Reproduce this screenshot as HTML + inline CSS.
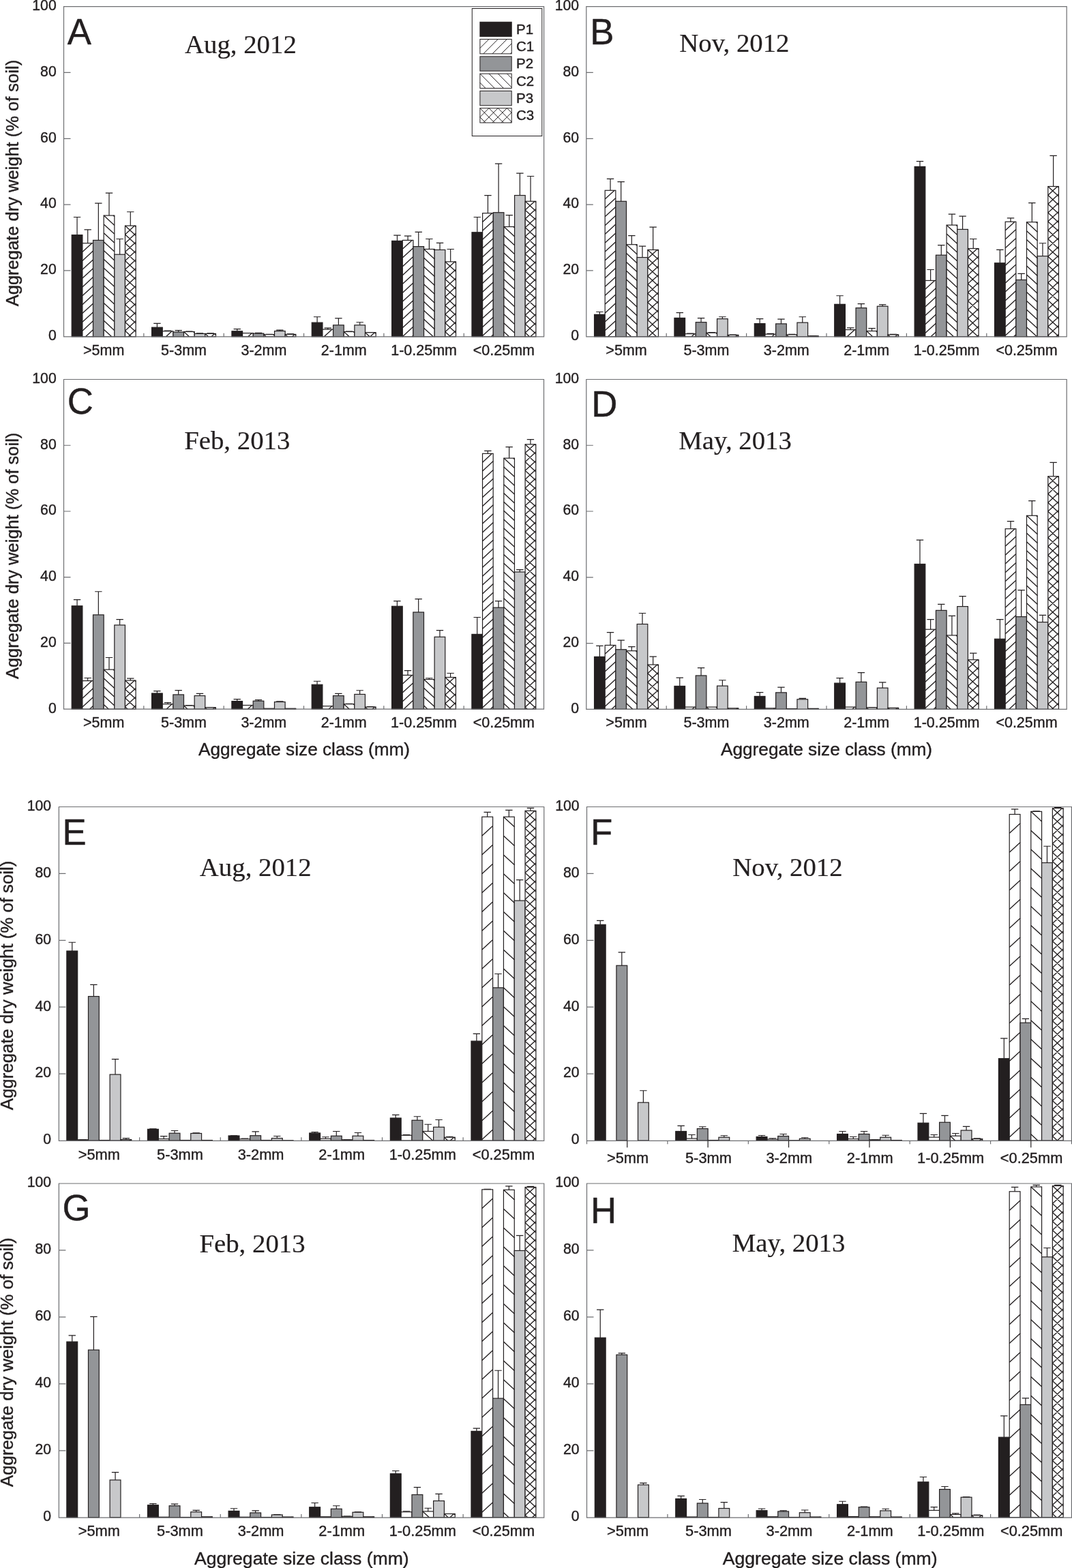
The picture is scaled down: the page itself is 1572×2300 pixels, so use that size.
<!DOCTYPE html>
<html lang="en"><head><meta charset="utf-8"><title>Aggregate dry weight by size class</title>
<style>
html,body{margin:0;padding:0;background:#fff}
svg{display:block}
text{font-family:"Liberation Sans",sans-serif;fill:#231f20;stroke:#231f20;stroke-width:0.4;stroke-linejoin:round}
text.t{font-family:"Liberation Serif",serif;stroke-width:0.2}
</style></head>
<body>
<svg width="1572" height="2300" viewBox="0 0 1572 2300">
<rect width="1572" height="2300" fill="#fff"/>
<g id="panelA">
<g stroke="#231f20" stroke-width="1.2" fill="none">
<path d="M113.06 344.67V318.52M107.86 318.52H118.26M128.7 356.77V336.92M123.5 336.92H133.9M144.35 352.41V298.18M139.15 298.18H149.55M160 316.1V283.17M154.8 283.17H165.2M175.64 373.23V350.48M170.44 350.48H180.84M191.29 331.11V310.77M186.09 310.77H196.49M230.41 480.24V474.43M225.21 474.43H235.61M246.06 485.81V485.08M240.86 485.08H251.26M261.7 487.02V484.6M256.5 484.6H266.9M277.35 486.54V486.05M272.15 486.05H282.55M293 489.44V488.96M287.8 488.96H298.2M308.64 489.44V488.96M303.44 488.96H313.84M347.76 485.81V482.66M342.56 482.66H352.96M379.05 489.1V488.47M373.85 488.47H384.25M394.7 490.65V490.41M389.5 490.41H399.9M410.35 485.57V484.12M405.15 484.12H415.55M425.99 490.41V489.93M420.79 489.93H431.19M465.11 473.17V464.75M459.91 464.75H470.31M480.75 483.15V481.21M475.56 481.21H485.95M496.4 476.85V466.93M491.2 466.93H501.6M512.05 486.54V486.05M506.85 486.05H517.25M527.69 476.85V472.74M522.49 472.74H532.89M543.34 487.75V487.51M538.14 487.51H548.54M582.46 353.38V345.15M577.26 345.15H587.66M598.11 352.41V346.12M592.9 346.12H603.31M613.75 361.61V340.31M608.55 340.31H618.95M629.4 365.49V350.48M624.2 350.48H634.6M645.05 366.46V356.29M639.85 356.29H650.25M660.69 383.89V365.49M655.49 365.49H665.89M699.81 340.79V318.52M694.61 318.52H705.01M715.45 312.71V286.56M710.25 286.56H720.65M731.1 311.74V240.08M725.9 240.08H736.3M746.75 332.56V315.61M741.55 315.61H751.95M762.39 286.56V254.12M757.19 254.12H767.6M778.04 295.28V258.48M772.84 258.48H783.24"/>
</g>
<g stroke="#231f20" stroke-width="1.2">
<rect x="105.23" y="344.67" width="15.65" height="149.13" fill="#231f20"/>
<rect x="120.88" y="356.77" width="15.65" height="137.03" fill="#fff"/>
<rect x="136.53" y="352.41" width="15.65" height="141.39" fill="#939598"/>
<rect x="152.18" y="316.1" width="15.65" height="177.7" fill="#fff"/>
<rect x="167.82" y="373.23" width="15.65" height="120.57" fill="#c7c8ca"/>
<rect x="183.47" y="331.11" width="15.65" height="162.69" fill="#fff"/>
<rect x="222.59" y="480.24" width="15.65" height="13.56" fill="#231f20"/>
<rect x="238.23" y="485.81" width="15.65" height="7.99" fill="#fff"/>
<rect x="253.88" y="487.02" width="15.65" height="6.78" fill="#939598"/>
<rect x="269.53" y="486.54" width="15.65" height="7.26" fill="#fff"/>
<rect x="285.17" y="489.44" width="15.65" height="4.36" fill="#c7c8ca"/>
<rect x="300.82" y="489.44" width="15.65" height="4.36" fill="#fff"/>
<rect x="339.94" y="485.81" width="15.65" height="7.99" fill="#231f20"/>
<rect x="355.58" y="488.62" width="15.65" height="5.18" fill="#fff"/>
<rect x="371.23" y="489.1" width="15.65" height="4.7" fill="#939598"/>
<rect x="386.88" y="490.65" width="15.65" height="3.15" fill="#fff"/>
<rect x="402.52" y="485.57" width="15.65" height="8.23" fill="#c7c8ca"/>
<rect x="418.17" y="490.41" width="15.65" height="3.39" fill="#fff"/>
<rect x="457.29" y="473.17" width="15.65" height="20.63" fill="#231f20"/>
<rect x="472.93" y="483.15" width="15.65" height="10.65" fill="#fff"/>
<rect x="488.58" y="476.85" width="15.65" height="16.95" fill="#939598"/>
<rect x="504.23" y="486.54" width="15.65" height="7.26" fill="#fff"/>
<rect x="519.87" y="476.85" width="15.65" height="16.95" fill="#c7c8ca"/>
<rect x="535.52" y="487.75" width="15.65" height="6.05" fill="#fff"/>
<rect x="574.64" y="353.38" width="15.65" height="140.42" fill="#231f20"/>
<rect x="590.28" y="352.41" width="15.65" height="141.39" fill="#fff"/>
<rect x="605.93" y="361.61" width="15.65" height="132.19" fill="#939598"/>
<rect x="621.58" y="365.49" width="15.65" height="128.31" fill="#fff"/>
<rect x="637.22" y="366.46" width="15.65" height="127.34" fill="#c7c8ca"/>
<rect x="652.87" y="383.89" width="15.65" height="109.91" fill="#fff"/>
<rect x="691.99" y="340.79" width="15.65" height="153.01" fill="#231f20"/>
<rect x="707.63" y="312.71" width="15.65" height="181.09" fill="#fff"/>
<rect x="723.28" y="311.74" width="15.65" height="182.06" fill="#939598"/>
<rect x="738.93" y="332.56" width="15.65" height="161.24" fill="#fff"/>
<rect x="754.57" y="286.56" width="15.65" height="207.24" fill="#c7c8ca"/>
<rect x="770.22" y="295.28" width="15.65" height="198.52" fill="#fff"/>
<path fill="none" stroke-width="1.35" d="M120.88 369.57L134.79 356.77M120.88 382.42L136.53 368.03M120.88 395.27L136.53 380.88M120.88 408.12L136.53 393.73M120.88 420.97L136.53 406.58M120.88 433.82L136.53 419.43M120.88 446.67L136.53 432.28M120.88 459.52L136.53 445.13M120.88 472.37L136.53 457.98M120.88 485.22L136.53 470.83M125.52 493.8L136.53 483.68M166.14 316.1L167.82 317.64M152.18 316.1L167.82 330.49M152.18 328.95L167.82 343.34M152.18 341.8L167.82 356.19M152.18 354.65L167.82 369.04M152.18 367.5L167.82 381.89M152.18 380.35L167.82 394.74M152.18 393.2L167.82 407.59M152.18 406.05L167.82 420.44M152.18 418.9L167.82 433.29M152.18 431.75L167.82 446.14M152.18 444.6L167.82 458.99M152.18 457.45L167.82 471.84M152.18 470.3L167.82 484.69M152.18 483.15L163.75 493.8M183.47 343.91L197.38 331.11M183.47 356.76L199.12 342.36M183.47 369.61L199.12 355.21M183.47 382.46L199.12 368.06M183.47 395.31L199.12 380.91M183.47 408.16L199.12 393.76M183.47 421.01L199.12 406.61M183.47 433.86L199.12 419.46M183.47 446.71L199.12 432.31M183.47 459.56L199.12 445.16M183.47 472.41L199.12 458.01M183.47 485.26L199.12 470.86M188.15 493.8L199.12 483.71M197.44 331.11L199.12 332.65M183.47 331.11L199.12 345.5M183.47 343.96L199.12 358.35M183.47 356.81L199.12 371.2M183.47 369.66L199.12 384.05M183.47 382.51L199.12 396.9M183.47 395.36L199.12 409.75M183.47 408.21L199.12 422.6M183.47 421.06L199.12 435.45M183.47 433.91L199.12 448.3M183.47 446.76L199.12 461.15M183.47 459.61L199.12 474M183.47 472.46L199.12 486.85M183.47 485.31L192.7 493.8M243.46 493.8L252.14 485.81M283.49 486.54L285.17 488.08M269.53 486.54L277.42 493.8M309.99 493.8L314.73 489.44M314.79 489.44L316.47 490.99M300.82 489.44L305.56 493.8M363.86 493.8L369.49 488.62M400.84 490.65L402.52 492.2M386.88 490.65L390.3 493.8M428.4 493.8L432.08 490.41M432.14 490.41L433.82 491.96M418.17 490.41L421.85 493.8M475.27 493.8L486.84 483.15M518.19 486.54L519.87 488.08M504.23 486.54L512.12 493.8M542.85 493.8L549.43 487.75M549.49 487.75L551.17 489.29M535.52 487.75L542.1 493.8M590.28 365.21L604.19 352.41M590.28 378.06L605.93 363.67M590.28 390.91L605.93 376.52M590.28 403.76L605.93 389.37M590.28 416.61L605.93 402.22M590.28 429.46L605.93 415.07M590.28 442.31L605.93 427.92M590.28 455.16L605.93 440.77M590.28 468.01L605.93 453.62M590.28 480.86L605.93 466.47M590.28 493.71L605.93 479.32M604.16 493.8L605.93 492.17M635.54 365.49L637.22 367.03M621.58 365.49L637.22 379.88M621.58 378.34L637.22 392.73M621.58 391.19L637.22 405.58M621.58 404.04L637.22 418.43M621.58 416.89L637.22 431.28M621.58 429.74L637.22 444.13M621.58 442.59L637.22 456.98M621.58 455.44L637.22 469.83M621.58 468.29L637.22 482.68M621.58 481.14L635.34 493.8M652.87 396.69L666.78 383.89M652.87 409.54L668.52 395.14M652.87 422.39L668.52 407.99M652.87 435.24L668.52 420.84M652.87 448.09L668.52 433.69M652.87 460.94L668.52 446.54M652.87 473.79L668.52 459.39M652.87 486.64L668.52 472.24M659.05 493.8L668.52 485.09M666.84 383.89L668.52 385.43M652.87 383.89L668.52 398.28M652.87 396.74L668.52 411.13M652.87 409.59L668.52 423.98M652.87 422.44L668.52 436.83M652.87 435.29L668.52 449.68M652.87 448.14L668.52 462.53M652.87 460.99L668.52 475.38M652.87 473.84L668.52 488.23M652.87 486.69L660.6 493.8M707.63 325.51L721.54 312.71M707.63 338.36L723.28 323.96M707.63 351.21L723.28 336.81M707.63 364.06L723.28 349.66M707.63 376.91L723.28 362.51M707.63 389.76L723.28 375.36M707.63 402.61L723.28 388.21M707.63 415.46L723.28 401.06M707.63 428.31L723.28 413.91M707.63 441.16L723.28 426.76M707.63 454.01L723.28 439.61M707.63 466.86L723.28 452.46M707.63 479.71L723.28 465.31M707.63 492.56L723.28 478.16M720.25 493.8L723.28 491.01M752.89 332.56L754.57 334.11M738.93 332.56L754.57 346.96M738.93 345.41L754.57 359.81M738.93 358.26L754.57 372.66M738.93 371.11L754.57 385.51M738.93 383.96L754.57 398.36M738.93 396.81L754.57 411.21M738.93 409.66L754.57 424.06M738.93 422.51L754.57 436.91M738.93 435.36L754.57 449.76M738.93 448.21L754.57 462.61M738.93 461.06L754.57 475.46M738.93 473.91L754.57 488.31M738.93 486.76L746.58 493.8M770.22 308.08L784.13 295.28M770.22 320.93L785.87 306.53M770.22 333.78L785.87 319.38M770.22 346.63L785.87 332.23M770.22 359.48L785.87 345.08M770.22 372.33L785.87 357.93M770.22 385.18L785.87 370.78M770.22 398.03L785.87 383.63M770.22 410.88L785.87 396.48M770.22 423.73L785.87 409.33M770.22 436.58L785.87 422.18M770.22 449.43L785.87 435.03M770.22 462.28L785.87 447.88M770.22 475.13L785.87 460.73M770.22 487.98L785.87 473.58M777.86 493.8L785.87 486.43M784.19 295.28L785.87 296.82M770.22 295.28L785.87 309.67M770.22 308.13L785.87 322.52M770.22 320.98L785.87 335.37M770.22 333.83L785.87 348.22M770.22 346.68L785.87 361.07M770.22 359.53L785.87 373.92M770.22 372.38L785.87 386.77M770.22 385.23L785.87 399.62M770.22 398.08L785.87 412.47M770.22 410.93L785.87 425.32M770.22 423.78L785.87 438.17M770.22 436.63L785.87 451.02M770.22 449.48L785.87 463.87M770.22 462.33L785.87 476.72M770.22 475.18L785.87 489.57M770.22 488.03L776.49 493.8"/>
</g>
<path d="M93.5 9.6H797.6V493.8H93.5ZM93.5 396.96h10M93.5 300.12h10M93.5 203.28h10M93.5 106.44h10M210.85 493.8v-5M328.2 493.8v-5M445.55 493.8v-5M562.9 493.8v-5M680.25 493.8v-5" fill="none" stroke="#6d6e71" stroke-width="1.2"/>
<g font-size="21.2" text-anchor="end">
<text x="82.7" y="499.1">0</text>
<text x="82.7" y="402.26">20</text>
<text x="82.7" y="305.42">40</text>
<text x="82.7" y="208.58">60</text>
<text x="82.7" y="111.74">80</text>
<text x="82.7" y="14.9">100</text>
</g>
<g font-size="21.5" text-anchor="middle">
<text x="152.18" y="521">&gt;5mm</text>
<text x="269.52" y="521">5-3mm</text>
<text x="386.88" y="521">3-2mm</text>
<text x="504.23" y="521">2-1mm</text>
<text x="621.58" y="521">1-0.25mm</text>
<text x="738.93" y="521">&lt;0.25mm</text>
</g>
<text x="98.8" y="65" font-size="52.8">A</text>
<text x="352.88" y="78" font-size="38.8" text-anchor="middle" class="t">Aug, 2012</text>
<text transform="translate(27.4 268.6) rotate(-90)" font-size="25.5" text-anchor="middle">Aggregate dry weight (% of soil)</text>
</g>
<g id="panelB">
<g stroke="#231f20" stroke-width="1.2" fill="none">
<path d="M879.37 461.36V457.49M874.17 457.49H884.57M895.02 279.3V262.35M889.82 262.35H900.22M910.67 295.28V266.71M905.47 266.71H915.87M926.33 358.71V345.63M921.13 345.63H931.53M941.98 377.59V361.13M936.78 361.13H947.18M957.63 366.46V333.05M952.43 333.05H962.83M996.77 466.44V458.65M991.57 458.65H1001.97M1012.42 489.68V489.2M1007.22 489.2H1017.62M1028.07 472.69V466.68M1022.87 466.68H1033.27M1043.73 488.18V487.51M1038.53 487.51H1048.93M1059.38 467.65V464.75M1054.18 464.75H1064.58M1075.03 491.38V491.14M1069.83 491.14H1080.23M1114.17 474.67V467.65M1108.97 467.65H1119.37M1129.82 490.17V489.44M1124.62 489.44H1135.02M1145.47 474.92V468.14M1140.27 468.14H1150.67M1161.13 490.89V490.41M1155.93 490.41H1166.33M1176.78 473.17V464.75M1171.58 464.75H1181.98M1192.43 492.83V492.59M1187.23 492.59H1197.63M1231.57 446.35V433.76M1226.37 433.76H1236.77M1247.22 483.63V480.97M1242.02 480.97H1252.42M1262.87 451.67V445.62M1257.67 445.62H1268.07M1278.53 485.57V481.69M1273.33 481.69H1283.73M1294.18 449.25V446.83M1288.98 446.83H1299.38M1309.83 490.89V490.41M1304.63 490.41H1315.03M1348.97 244.44V236.69M1343.77 236.69H1354.17M1364.62 411.49V395.51M1359.42 395.51H1369.82M1380.27 374.2V359.68M1375.07 359.68H1385.47M1395.93 330.14V314.16M1390.73 314.16H1401.13M1411.58 336.44V317.07M1406.38 317.07H1416.78M1427.23 364.52V350.48M1422.03 350.48H1432.43M1466.37 385.82V366.46M1461.17 366.46H1471.57M1482.02 325.3V319.97M1476.82 319.97H1487.22M1497.67 410.52V401.32M1492.47 401.32H1502.87M1513.33 325.78V297.7M1508.13 297.7H1518.53M1528.98 375.66V356.77M1523.78 356.77H1534.18M1544.63 273.49V228.46M1539.43 228.46H1549.83"/>
</g>
<g stroke="#231f20" stroke-width="1.2">
<rect x="871.54" y="461.36" width="15.65" height="32.44" fill="#231f20"/>
<rect x="887.19" y="279.3" width="15.65" height="214.5" fill="#fff"/>
<rect x="902.85" y="295.28" width="15.65" height="198.52" fill="#939598"/>
<rect x="918.5" y="358.71" width="15.65" height="135.09" fill="#fff"/>
<rect x="934.15" y="377.59" width="15.65" height="116.21" fill="#c7c8ca"/>
<rect x="949.81" y="366.46" width="15.65" height="127.34" fill="#fff"/>
<rect x="988.94" y="466.44" width="15.65" height="27.36" fill="#231f20"/>
<rect x="1004.59" y="489.68" width="15.65" height="4.12" fill="#fff"/>
<rect x="1020.25" y="472.69" width="15.65" height="21.11" fill="#939598"/>
<rect x="1035.9" y="488.18" width="15.65" height="5.62" fill="#fff"/>
<rect x="1051.55" y="467.65" width="15.65" height="26.15" fill="#c7c8ca"/>
<rect x="1067.21" y="491.38" width="15.65" height="2.42" fill="#fff"/>
<rect x="1106.34" y="474.67" width="15.65" height="19.13" fill="#231f20"/>
<rect x="1121.99" y="490.17" width="15.65" height="3.63" fill="#fff"/>
<rect x="1137.65" y="474.92" width="15.65" height="18.88" fill="#939598"/>
<rect x="1153.3" y="490.89" width="15.65" height="2.91" fill="#fff"/>
<rect x="1168.95" y="473.17" width="15.65" height="20.63" fill="#c7c8ca"/>
<rect x="1184.61" y="492.83" width="15.65" height="0.97" fill="#fff"/>
<rect x="1223.74" y="446.35" width="15.65" height="47.45" fill="#231f20"/>
<rect x="1239.39" y="483.63" width="15.65" height="10.17" fill="#fff"/>
<rect x="1255.05" y="451.67" width="15.65" height="42.13" fill="#939598"/>
<rect x="1270.7" y="485.57" width="15.65" height="8.23" fill="#fff"/>
<rect x="1286.35" y="449.25" width="15.65" height="44.55" fill="#c7c8ca"/>
<rect x="1302.01" y="490.89" width="15.65" height="2.91" fill="#fff"/>
<rect x="1341.14" y="244.44" width="15.65" height="249.36" fill="#231f20"/>
<rect x="1356.79" y="411.49" width="15.65" height="82.31" fill="#fff"/>
<rect x="1372.45" y="374.2" width="15.65" height="119.6" fill="#939598"/>
<rect x="1388.1" y="330.14" width="15.65" height="163.66" fill="#fff"/>
<rect x="1403.75" y="336.44" width="15.65" height="157.36" fill="#c7c8ca"/>
<rect x="1419.41" y="364.52" width="15.65" height="129.28" fill="#fff"/>
<rect x="1458.54" y="385.82" width="15.65" height="107.98" fill="#231f20"/>
<rect x="1474.19" y="325.3" width="15.65" height="168.5" fill="#fff"/>
<rect x="1489.85" y="410.52" width="15.65" height="83.28" fill="#939598"/>
<rect x="1505.5" y="325.78" width="15.65" height="168.02" fill="#fff"/>
<rect x="1521.15" y="375.66" width="15.65" height="118.14" fill="#c7c8ca"/>
<rect x="1536.81" y="273.49" width="15.65" height="220.31" fill="#fff"/>
<path fill="none" stroke-width="1.35" d="M887.19 292.1L901.11 279.3M887.19 304.95L902.85 290.55M887.19 317.8L902.85 303.4M887.19 330.65L902.85 316.25M887.19 343.5L902.85 329.1M887.19 356.35L902.85 341.95M887.19 369.2L902.85 354.8M887.19 382.05L902.85 367.65M887.19 394.9L902.85 380.5M887.19 407.75L902.85 393.35M887.19 420.6L902.85 406.2M887.19 433.45L902.85 419.05M887.19 446.3L902.85 431.9M887.19 459.15L902.85 444.75M887.19 472L902.85 457.6M887.19 484.85L902.85 470.45M891.43 493.8L902.85 483.3M932.47 358.71L934.15 360.26M918.5 358.71L934.15 373.11M918.5 371.56L934.15 385.96M918.5 384.41L934.15 398.81M918.5 397.26L934.15 411.66M918.5 410.11L934.15 424.51M918.5 422.96L934.15 437.36M918.5 435.81L934.15 450.21M918.5 448.66L934.15 463.06M918.5 461.51L934.15 475.91M918.5 474.36L934.15 488.76M918.5 487.21L925.66 493.8M949.81 379.26L963.72 366.46M949.81 392.11L965.46 377.7M949.81 404.96L965.46 390.55M949.81 417.81L965.46 403.4M949.81 430.66L965.46 416.25M949.81 443.51L965.46 429.1M949.81 456.36L965.46 441.95M949.81 469.21L965.46 454.8M949.81 482.06L965.46 467.65M951.01 493.8L965.46 480.5M964.98 493.8L965.46 493.35M963.77 366.46L965.46 368.01M949.81 366.46L965.46 380.86M949.81 379.31L965.46 393.71M949.81 392.16L965.46 406.56M949.81 405.01L965.46 419.41M949.81 417.86L965.46 432.26M949.81 430.71L965.46 445.11M949.81 443.56L965.46 457.96M949.81 456.41L965.46 470.81M949.81 469.26L965.46 483.66M949.81 482.11L962.52 493.8M1014.03 493.8L1018.51 489.68M1049.87 488.18L1051.55 489.73M1035.9 488.18L1042.01 493.8M1078.49 493.8L1081.12 491.38M1081.17 491.38L1082.86 492.93M1067.21 491.38L1069.84 493.8M1131.96 493.8L1135.91 490.17M1167.27 490.89L1168.95 492.45M1153.3 490.89L1156.46 493.8M1197.47 493.8L1198.52 492.83M1198.57 492.83L1199.63 493.8M1184.61 492.83L1185.66 493.8M1242.25 493.8L1253.31 483.63M1284.67 485.57L1286.35 487.12M1270.7 485.57L1279.65 493.8M1312.76 493.8L1315.92 490.89M1315.97 490.89L1317.66 492.45M1302.01 490.89L1305.16 493.8M1356.79 424.29L1370.71 411.49M1356.79 437.14L1372.45 422.73M1356.79 449.99L1372.45 435.58M1356.79 462.84L1372.45 448.43M1356.79 475.69L1372.45 461.28M1356.79 488.54L1372.45 474.13M1365.04 493.8L1372.45 486.98M1402.07 330.14L1403.75 331.69M1388.1 330.14L1403.75 344.54M1388.1 342.99L1403.75 357.39M1388.1 355.84L1403.75 370.24M1388.1 368.69L1403.75 383.09M1388.1 381.54L1403.75 395.94M1388.1 394.39L1403.75 408.79M1388.1 407.24L1403.75 421.64M1388.1 420.09L1403.75 434.49M1388.1 432.94L1403.75 447.34M1388.1 445.79L1403.75 460.19M1388.1 458.64L1403.75 473.04M1388.1 471.49L1403.75 485.89M1388.1 484.34L1398.38 493.8M1419.41 377.32L1433.32 364.52M1419.41 390.17L1435.06 375.77M1419.41 403.02L1435.06 388.62M1419.41 415.87L1435.06 401.47M1419.41 428.72L1435.06 414.32M1419.41 441.57L1435.06 427.17M1419.41 454.42L1435.06 440.02M1419.41 467.27L1435.06 452.87M1419.41 480.12L1435.06 465.72M1419.41 492.97L1435.06 478.57M1432.47 493.8L1435.06 491.42M1433.37 364.52L1435.06 366.07M1419.41 364.52L1435.06 378.92M1419.41 377.37L1435.06 391.77M1419.41 390.22L1435.06 404.62M1419.41 403.07L1435.06 417.47M1419.41 415.92L1435.06 430.32M1419.41 428.77L1435.06 443.17M1419.41 441.62L1435.06 456.02M1419.41 454.47L1435.06 468.87M1419.41 467.32L1435.06 481.72M1419.41 480.17L1434.22 493.8M1419.41 493.02L1420.26 493.8M1474.19 338.1L1488.11 325.3M1474.19 350.95L1489.85 336.55M1474.19 363.8L1489.85 349.4M1474.19 376.65L1489.85 362.25M1474.19 389.5L1489.85 375.1M1474.19 402.35L1489.85 387.95M1474.19 415.2L1489.85 400.8M1474.19 428.05L1489.85 413.65M1474.19 440.9L1489.85 426.5M1474.19 453.75L1489.85 439.35M1474.19 466.6L1489.85 452.2M1474.19 479.45L1489.85 465.05M1474.19 492.3L1489.85 477.9M1486.53 493.8L1489.85 490.75M1519.47 325.78L1521.15 327.33M1505.5 325.78L1521.15 340.18M1505.5 338.63L1521.15 353.03M1505.5 351.48L1521.15 365.88M1505.5 364.33L1521.15 378.73M1505.5 377.18L1521.15 391.58M1505.5 390.03L1521.15 404.43M1505.5 402.88L1521.15 417.28M1505.5 415.73L1521.15 430.13M1505.5 428.58L1521.15 442.98M1505.5 441.43L1521.15 455.83M1505.5 454.28L1521.15 468.68M1505.5 467.13L1521.15 481.53M1505.5 479.98L1520.52 493.8M1505.5 492.83L1506.55 493.8M1536.81 286.29L1550.72 273.49M1536.81 299.14L1552.46 284.74M1536.81 311.99L1552.46 297.59M1536.81 324.84L1552.46 310.44M1536.81 337.69L1552.46 323.29M1536.81 350.54L1552.46 336.14M1536.81 363.39L1552.46 348.99M1536.81 376.24L1552.46 361.84M1536.81 389.09L1552.46 374.69M1536.81 401.94L1552.46 387.54M1536.81 414.79L1552.46 400.39M1536.81 427.64L1552.46 413.24M1536.81 440.49L1552.46 426.09M1536.81 453.34L1552.46 438.94M1536.81 466.19L1552.46 451.79M1536.81 479.04L1552.46 464.64M1536.81 491.89L1552.46 477.49M1548.7 493.8L1552.46 490.34M1550.77 273.49L1552.46 275.04M1536.81 273.49L1552.46 287.89M1536.81 286.34L1552.46 300.74M1536.81 299.19L1552.46 313.59M1536.81 312.04L1552.46 326.44M1536.81 324.89L1552.46 339.29M1536.81 337.74L1552.46 352.14M1536.81 350.59L1552.46 364.99M1536.81 363.44L1552.46 377.84M1536.81 376.29L1552.46 390.69M1536.81 389.14L1552.46 403.54M1536.81 401.99L1552.46 416.39M1536.81 414.84L1552.46 429.24M1536.81 427.69L1552.46 442.09M1536.81 440.54L1552.46 454.94M1536.81 453.39L1552.46 467.79M1536.81 466.24L1552.46 480.64M1536.81 479.09L1552.46 493.49M1536.81 491.94L1538.83 493.8"/>
</g>
<path d="M859.8 9.6H1564.2V493.8H859.8ZM859.8 396.96h10M859.8 300.12h10M859.8 203.28h10M859.8 106.44h10M977.2 493.8v-5M1094.6 493.8v-5M1212 493.8v-5M1329.4 493.8v-5M1446.8 493.8v-5" fill="none" stroke="#6d6e71" stroke-width="1.2"/>
<g font-size="21.2" text-anchor="end">
<text x="849" y="499.1">0</text>
<text x="849" y="402.26">20</text>
<text x="849" y="305.42">40</text>
<text x="849" y="208.58">60</text>
<text x="849" y="111.74">80</text>
<text x="849" y="14.9">100</text>
</g>
<g font-size="21.5" text-anchor="middle">
<text x="918.5" y="521">&gt;5mm</text>
<text x="1035.9" y="521">5-3mm</text>
<text x="1153.3" y="521">3-2mm</text>
<text x="1270.7" y="521">2-1mm</text>
<text x="1388.1" y="521">1-0.25mm</text>
<text x="1505.5" y="521">&lt;0.25mm</text>
</g>
<text x="865.3" y="65" font-size="52.8">B</text>
<text x="1076.88" y="75.5" font-size="38.8" text-anchor="middle" class="t">Nov, 2012</text>
</g>
<g id="panelC">
<g stroke="#231f20" stroke-width="1.2" fill="none">
<path d="M113.06 888.8V879.61M107.86 879.61H118.26M128.7 998.6V994.49M123.5 994.49H133.9M144.34 901.86V867.76M139.14 867.76H149.54M159.99 982.16V964.5M154.79 964.5H165.19M175.63 916.86V908.63M170.43 908.63H180.83M191.28 998.12V995.22M186.08 995.22H196.48M230.39 1016.98V1013.6M225.19 1013.6H235.59M246.03 1032.75V1030.53M240.83 1030.53H251.23M261.68 1018.92V1012.63M256.48 1012.63H266.88M277.32 1035.02V1034.64M272.12 1034.64H282.52M292.97 1020.51V1017.47M287.77 1017.47H298.17M308.61 1037.78V1037.54M303.41 1037.54H313.81M347.72 1028.59V1025.69M342.52 1025.69H352.92M379.01 1028.25V1026.66M373.81 1026.66H384.21M410.3 1029.56V1028.83M405.1 1028.83H415.5M465.06 1004.26V999.23M459.86 999.23H470.26M496.34 1020.51V1017.47M491.14 1017.47H501.54M511.99 1032.75V1032.46M506.79 1032.46H517.19M527.63 1018.43V1012.77M522.43 1012.77H532.83M543.28 1037.01V1036.57M538.08 1036.57H548.48M582.39 889.29V881.55M577.19 881.55H587.59M598.03 990.38V983.61M592.83 983.61H603.23M613.68 897.99V878.64M608.48 878.64H618.88M629.32 996.52V994.73M624.12 994.73H634.52M644.97 934.27V924.6M639.77 924.6H650.17M660.61 993.52V987.48M655.41 987.48H665.81M699.72 930.4V905.49M694.52 905.49H704.92M715.37 665.33V661.46M710.17 661.46H720.57M731.01 891.22V881.55M725.81 881.55H736.21M746.66 672.1V655.66M741.46 655.66H751.86M762.3 838.98V835.59M757.1 835.59H767.5M777.94 651.79V644.53M772.74 644.53H783.14"/>
</g>
<g stroke="#231f20" stroke-width="1.2">
<rect x="105.23" y="888.8" width="15.64" height="151.4" fill="#231f20"/>
<rect x="120.88" y="998.6" width="15.64" height="41.6" fill="#fff"/>
<rect x="136.52" y="901.86" width="15.64" height="138.34" fill="#939598"/>
<rect x="152.17" y="982.16" width="15.64" height="58.04" fill="#fff"/>
<rect x="167.81" y="916.86" width="15.64" height="123.34" fill="#c7c8ca"/>
<rect x="183.46" y="998.12" width="15.64" height="42.08" fill="#fff"/>
<rect x="222.57" y="1016.98" width="15.64" height="23.22" fill="#231f20"/>
<rect x="238.21" y="1032.75" width="15.64" height="7.45" fill="#fff"/>
<rect x="253.86" y="1018.92" width="15.64" height="21.28" fill="#939598"/>
<rect x="269.5" y="1035.02" width="15.64" height="5.18" fill="#fff"/>
<rect x="285.14" y="1020.51" width="15.64" height="19.69" fill="#c7c8ca"/>
<rect x="300.79" y="1037.78" width="15.64" height="2.42" fill="#fff"/>
<rect x="339.9" y="1028.59" width="15.64" height="11.61" fill="#231f20"/>
<rect x="355.54" y="1034.49" width="15.64" height="5.71" fill="#fff"/>
<rect x="371.19" y="1028.25" width="15.64" height="11.95" fill="#939598"/>
<rect x="386.83" y="1039.23" width="15.64" height="0.97" fill="#fff"/>
<rect x="402.48" y="1029.56" width="15.64" height="10.64" fill="#c7c8ca"/>
<rect x="418.12" y="1039.23" width="15.64" height="0.97" fill="#fff"/>
<rect x="457.23" y="1004.26" width="15.64" height="35.94" fill="#231f20"/>
<rect x="472.88" y="1035.75" width="15.64" height="4.45" fill="#fff"/>
<rect x="488.52" y="1020.51" width="15.64" height="19.69" fill="#939598"/>
<rect x="504.17" y="1032.75" width="15.64" height="7.45" fill="#fff"/>
<rect x="519.81" y="1018.43" width="15.64" height="21.77" fill="#c7c8ca"/>
<rect x="535.46" y="1037.01" width="15.64" height="3.19" fill="#fff"/>
<rect x="574.57" y="889.29" width="15.64" height="150.91" fill="#231f20"/>
<rect x="590.21" y="990.38" width="15.64" height="49.82" fill="#fff"/>
<rect x="605.86" y="897.99" width="15.64" height="142.21" fill="#939598"/>
<rect x="621.5" y="996.52" width="15.64" height="43.68" fill="#fff"/>
<rect x="637.14" y="934.27" width="15.64" height="105.93" fill="#c7c8ca"/>
<rect x="652.79" y="993.52" width="15.64" height="46.68" fill="#fff"/>
<rect x="691.9" y="930.4" width="15.64" height="109.8" fill="#231f20"/>
<rect x="707.54" y="665.33" width="15.64" height="374.87" fill="#fff"/>
<rect x="723.19" y="891.22" width="15.64" height="148.98" fill="#939598"/>
<rect x="738.83" y="672.1" width="15.64" height="368.1" fill="#fff"/>
<rect x="754.48" y="838.98" width="15.64" height="201.22" fill="#c7c8ca"/>
<rect x="770.12" y="651.79" width="15.64" height="388.41" fill="#fff"/>
<path fill="none" stroke-width="1.35" d="M120.88 1011.4L134.79 998.6M120.88 1024.25L136.52 1009.86M120.88 1037.1L136.52 1022.71M131.48 1040.2L136.52 1035.56M166.13 982.16L167.81 983.7M152.17 982.16L167.81 996.55M152.17 995.01L167.81 1009.4M152.17 1007.86L167.81 1022.25M152.17 1020.71L167.81 1035.1M152.17 1033.56L159.39 1040.2M183.46 1010.92L197.37 998.12M183.46 1023.77L199.1 1009.38M183.46 1036.62L199.1 1022.23M193.53 1040.2L199.1 1035.08M197.42 998.12L199.1 999.66M183.46 998.12L199.1 1012.51M183.46 1010.97L199.1 1025.36M183.46 1023.82L199.1 1038.21M183.46 1036.67L187.29 1040.2M244.03 1040.2L252.12 1032.75M283.47 1035.02L285.14 1036.57M269.5 1035.02L275.13 1040.2M312.07 1040.2L314.7 1037.78M314.76 1037.78L316.43 1039.32M300.79 1037.78L303.42 1040.2M363.25 1040.2L369.46 1034.49M400.8 1039.23L401.85 1040.2M386.83 1039.23L387.88 1040.2M430.98 1040.2L432.04 1039.23M432.09 1039.23L433.14 1040.2M418.12 1039.23L419.17 1040.2M481.95 1040.2L486.79 1035.75M518.13 1032.75L519.81 1034.29M504.17 1032.75L512.26 1040.2M545.9 1040.2L549.37 1037.01M549.42 1037.01L551.1 1038.55M535.46 1037.01L538.93 1040.2M590.21 1003.18L604.12 990.38M590.21 1016.03L605.86 1001.64M590.21 1028.88L605.86 1014.49M591.87 1040.2L605.86 1027.34M635.47 996.52L637.14 998.06M621.5 996.52L637.14 1010.91M621.5 1009.37L637.14 1023.76M621.5 1022.22L637.14 1036.61M621.5 1035.07L627.07 1040.2M652.79 1006.32L666.7 993.52M652.79 1019.17L668.43 1004.78M652.79 1032.02L668.43 1017.63M657.87 1040.2L668.43 1030.48M666.76 993.52L668.43 995.07M652.79 993.52L668.43 1007.92M652.79 1006.37L668.43 1020.77M652.79 1019.22L668.43 1033.62M652.79 1032.07L661.62 1040.2M707.54 678.13L721.46 665.33M707.54 690.98L723.19 676.59M707.54 703.83L723.19 689.44M707.54 716.68L723.19 702.29M707.54 729.53L723.19 715.14M707.54 742.38L723.19 727.99M707.54 755.23L723.19 740.84M707.54 768.08L723.19 753.69M707.54 780.93L723.19 766.54M707.54 793.78L723.19 779.39M707.54 806.63L723.19 792.24M707.54 819.48L723.19 805.09M707.54 832.33L723.19 817.94M707.54 845.18L723.19 830.79M707.54 858.03L723.19 843.64M707.54 870.88L723.19 856.49M707.54 883.73L723.19 869.34M707.54 896.58L723.19 882.19M707.54 909.43L723.19 895.04M707.54 922.28L723.19 907.89M707.54 935.13L723.19 920.74M707.54 947.98L723.19 933.59M707.54 960.83L723.19 946.44M707.54 973.68L723.19 959.29M707.54 986.53L723.19 972.14M707.54 999.38L723.19 984.99M707.54 1012.23L723.19 997.84M707.54 1025.08L723.19 1010.69M707.54 1037.93L723.19 1023.54M719.05 1040.2L723.19 1036.39M752.8 672.1L754.48 673.65M738.83 672.1L754.48 686.5M738.83 684.95L754.48 699.35M738.83 697.8L754.48 712.2M738.83 710.65L754.48 725.05M738.83 723.5L754.48 737.9M738.83 736.35L754.48 750.75M738.83 749.2L754.48 763.6M738.83 762.05L754.48 776.45M738.83 774.9L754.48 789.3M738.83 787.75L754.48 802.15M738.83 800.6L754.48 815M738.83 813.45L754.48 827.85M738.83 826.3L754.48 840.7M738.83 839.15L754.48 853.55M738.83 852L754.48 866.4M738.83 864.85L754.48 879.25M738.83 877.7L754.48 892.1M738.83 890.55L754.48 904.95M738.83 903.4L754.48 917.8M738.83 916.25L754.48 930.65M738.83 929.1L754.48 943.5M738.83 941.95L754.48 956.35M738.83 954.8L754.48 969.2M738.83 967.65L754.48 982.05M738.83 980.5L754.48 994.9M738.83 993.35L754.48 1007.75M738.83 1006.2L754.48 1020.6M738.83 1019.05L754.48 1033.45M738.83 1031.9L747.85 1040.2M770.12 664.59L784.04 651.79M770.12 677.44L785.77 663.05M770.12 690.29L785.77 675.9M770.12 703.14L785.77 688.75M770.12 715.99L785.77 701.6M770.12 728.84L785.77 714.45M770.12 741.69L785.77 727.3M770.12 754.54L785.77 740.15M770.12 767.39L785.77 753M770.12 780.24L785.77 765.85M770.12 793.09L785.77 778.7M770.12 805.94L785.77 791.55M770.12 818.79L785.77 804.4M770.12 831.64L785.77 817.25M770.12 844.49L785.77 830.1M770.12 857.34L785.77 842.95M770.12 870.19L785.77 855.8M770.12 883.04L785.77 868.65M770.12 895.89L785.77 881.5M770.12 908.74L785.77 894.35M770.12 921.59L785.77 907.2M770.12 934.44L785.77 920.05M770.12 947.29L785.77 932.9M770.12 960.14L785.77 945.75M770.12 972.99L785.77 958.6M770.12 985.84L785.77 971.45M770.12 998.69L785.77 984.3M770.12 1011.54L785.77 997.15M770.12 1024.39L785.77 1010M770.12 1037.24L785.77 1022.85M780.87 1040.2L785.77 1035.7M784.09 651.79L785.77 653.33M770.12 651.79L785.77 666.18M770.12 664.64L785.77 679.03M770.12 677.49L785.77 691.88M770.12 690.34L785.77 704.73M770.12 703.19L785.77 717.58M770.12 716.04L785.77 730.43M770.12 728.89L785.77 743.28M770.12 741.74L785.77 756.13M770.12 754.59L785.77 768.98M770.12 767.44L785.77 781.83M770.12 780.29L785.77 794.68M770.12 793.14L785.77 807.53M770.12 805.99L785.77 820.38M770.12 818.84L785.77 833.23M770.12 831.69L785.77 846.08M770.12 844.54L785.77 858.93M770.12 857.39L785.77 871.78M770.12 870.24L785.77 884.63M770.12 883.09L785.77 897.48M770.12 895.94L785.77 910.33M770.12 908.79L785.77 923.18M770.12 921.64L785.77 936.03M770.12 934.49L785.77 948.88M770.12 947.34L785.77 961.73M770.12 960.19L785.77 974.58M770.12 973.04L785.77 987.43M770.12 985.89L785.77 1000.28M770.12 998.74L785.77 1013.13M770.12 1011.59L785.77 1025.98M770.12 1024.44L785.77 1038.83M770.12 1037.29L773.29 1040.2"/>
</g>
<path d="M93.5 556.5H797.5V1040.2H93.5ZM93.5 943.46h10M93.5 846.72h10M93.5 749.98h10M93.5 653.24h10M210.83 1040.2v-5M328.17 1040.2v-5M445.5 1040.2v-5M562.83 1040.2v-5M680.17 1040.2v-5" fill="none" stroke="#6d6e71" stroke-width="1.2"/>
<g font-size="21.2" text-anchor="end">
<text x="82.7" y="1045.5">0</text>
<text x="82.7" y="948.76">20</text>
<text x="82.7" y="852.02">40</text>
<text x="82.7" y="755.28">60</text>
<text x="82.7" y="658.54">80</text>
<text x="82.7" y="561.8">100</text>
</g>
<g font-size="21.5" text-anchor="middle">
<text x="152.17" y="1067">&gt;5mm</text>
<text x="269.5" y="1067">5-3mm</text>
<text x="386.83" y="1067">3-2mm</text>
<text x="504.17" y="1067">2-1mm</text>
<text x="621.5" y="1067">1-0.25mm</text>
<text x="738.83" y="1067">&lt;0.25mm</text>
</g>
<text x="98.7" y="607" font-size="52.8">C</text>
<text x="347.75" y="658.5" font-size="38.8" text-anchor="middle" class="t">Feb, 2013</text>
<text transform="translate(27.4 815.4) rotate(-90)" font-size="25.5" text-anchor="middle">Aggregate dry weight (% of soil)</text>
<text x="446" y="1108" font-size="26.2" text-anchor="middle">Aggregate size class (mm)</text>
</g>
<g id="panelD">
<g stroke="#231f20" stroke-width="1.2" fill="none">
<path d="M879.37 963.38V947.41M874.17 947.41H884.57M895.02 946.44V927.57M889.82 927.57H900.22M910.67 952.73V939.19M905.47 939.19H915.87M926.33 954.67V948.62M921.13 948.62H931.53M941.98 915.48V899.51M936.78 899.51H947.18M957.63 974.99V963.09M952.43 963.09H962.83M996.77 1006.43V994.1M991.57 994.1H1001.97M1028.07 990.95V979.58M1022.87 979.58H1033.27M1059.38 1006.1V997.73M1054.18 997.73H1064.58M1114.17 1021.43V1015.63M1108.97 1015.63H1119.37M1145.47 1015.87V1008.13M1140.27 1008.13H1150.67M1176.78 1025.79V1024.33M1171.58 1024.33H1181.98M1231.57 1002.08V994.58M1226.37 994.58H1236.77M1262.87 1000.34V986.6M1257.67 986.6H1268.07M1278.53 1037.88V1037.64M1273.33 1037.64H1283.73M1294.18 1009.09V1000.87M1288.98 1000.87H1299.38M1348.97 827.43V792.11M1343.77 792.11H1354.17M1364.62 923.22V908.71M1359.42 908.71H1369.82M1380.27 895.35V886.45M1375.07 886.45H1385.47M1395.93 931.93V903.38M1390.73 903.38H1401.13M1411.58 889.6V874.6M1406.38 874.6H1416.78M1427.23 967.73V958.05M1422.03 958.05H1432.43M1466.37 937.25V908.71M1461.17 908.71H1471.57M1482.02 775.66V764.53M1476.82 764.53H1487.22M1497.67 904.59V865.65M1492.47 865.65H1502.87M1513.33 756.31V734.54M1508.13 734.54H1518.53M1528.98 912.58V902.42M1523.78 902.42H1534.18M1544.63 698.74V678.42M1539.43 678.42H1549.83"/>
</g>
<g stroke="#231f20" stroke-width="1.2">
<rect x="871.54" y="963.38" width="15.65" height="76.92" fill="#231f20"/>
<rect x="887.19" y="946.44" width="15.65" height="93.86" fill="#fff"/>
<rect x="902.85" y="952.73" width="15.65" height="87.57" fill="#939598"/>
<rect x="918.5" y="954.67" width="15.65" height="85.63" fill="#fff"/>
<rect x="934.15" y="915.48" width="15.65" height="124.82" fill="#c7c8ca"/>
<rect x="949.81" y="974.99" width="15.65" height="65.31" fill="#fff"/>
<rect x="988.94" y="1006.43" width="15.65" height="33.87" fill="#231f20"/>
<rect x="1004.59" y="1037.11" width="15.65" height="3.19" fill="#fff"/>
<rect x="1020.25" y="990.95" width="15.65" height="49.35" fill="#939598"/>
<rect x="1035.9" y="1037.11" width="15.65" height="3.19" fill="#fff"/>
<rect x="1051.55" y="1006.1" width="15.65" height="34.2" fill="#c7c8ca"/>
<rect x="1067.21" y="1038.85" width="15.65" height="1.45" fill="#fff"/>
<rect x="1106.34" y="1021.43" width="15.65" height="18.87" fill="#231f20"/>
<rect x="1121.99" y="1038.85" width="15.65" height="1.45" fill="#fff"/>
<rect x="1137.65" y="1015.87" width="15.65" height="24.43" fill="#939598"/>
<rect x="1153.3" y="1039.57" width="15.65" height="0.73" fill="#fff"/>
<rect x="1168.95" y="1025.79" width="15.65" height="14.51" fill="#c7c8ca"/>
<rect x="1184.61" y="1039.33" width="15.65" height="0.97" fill="#fff"/>
<rect x="1223.74" y="1002.08" width="15.65" height="38.22" fill="#231f20"/>
<rect x="1239.39" y="1037.11" width="15.65" height="3.19" fill="#fff"/>
<rect x="1255.05" y="1000.34" width="15.65" height="39.96" fill="#939598"/>
<rect x="1270.7" y="1037.88" width="15.65" height="2.42" fill="#fff"/>
<rect x="1286.35" y="1009.09" width="15.65" height="31.21" fill="#c7c8ca"/>
<rect x="1302.01" y="1038.36" width="15.65" height="1.94" fill="#fff"/>
<rect x="1341.14" y="827.43" width="15.65" height="212.87" fill="#231f20"/>
<rect x="1356.79" y="923.22" width="15.65" height="117.08" fill="#fff"/>
<rect x="1372.45" y="895.35" width="15.65" height="144.95" fill="#939598"/>
<rect x="1388.1" y="931.93" width="15.65" height="108.37" fill="#fff"/>
<rect x="1403.75" y="889.6" width="15.65" height="150.7" fill="#c7c8ca"/>
<rect x="1419.41" y="967.73" width="15.65" height="72.57" fill="#fff"/>
<rect x="1458.54" y="937.25" width="15.65" height="103.05" fill="#231f20"/>
<rect x="1474.19" y="775.66" width="15.65" height="264.64" fill="#fff"/>
<rect x="1489.85" y="904.59" width="15.65" height="135.71" fill="#939598"/>
<rect x="1505.5" y="756.31" width="15.65" height="283.99" fill="#fff"/>
<rect x="1521.15" y="912.58" width="15.65" height="127.72" fill="#c7c8ca"/>
<rect x="1536.81" y="698.74" width="15.65" height="341.56" fill="#fff"/>
<path fill="none" stroke-width="1.35" d="M887.19 959.24L901.11 946.44M887.19 972.09L902.85 957.69M887.19 984.94L902.85 970.54M887.19 997.79L902.85 983.39M887.19 1010.64L902.85 996.24M887.19 1023.49L902.85 1009.09M887.19 1036.34L902.85 1021.94M896.86 1040.3L902.85 1034.79M932.47 954.67L934.15 956.22M918.5 954.67L934.15 969.07M918.5 967.52L934.15 981.92M918.5 980.37L934.15 994.77M918.5 993.22L934.15 1007.62M918.5 1006.07L934.15 1020.47M918.5 1018.92L934.15 1033.32M918.5 1031.77L927.77 1040.3M949.81 987.79L963.72 974.99M949.81 1000.64L965.46 986.24M949.81 1013.49L965.46 999.09M949.81 1026.34L965.46 1011.94M949.81 1039.19L965.46 1024.79M962.56 1040.3L965.46 1037.64M963.77 974.99L965.46 976.54M949.81 974.99L965.46 989.39M949.81 987.84L965.46 1002.24M949.81 1000.69L965.46 1015.09M949.81 1013.54L965.46 1027.94M949.81 1026.39L964.93 1040.3M949.81 1039.24L950.96 1040.3M1015.04 1040.3L1018.51 1037.11M1049.87 1037.11L1051.55 1038.66M1035.9 1037.11L1039.37 1040.3M1079.54 1040.3L1081.12 1038.85M1081.17 1038.85L1082.75 1040.3M1067.21 1038.85L1068.78 1040.3M1134.33 1040.3L1135.91 1038.85M1167.27 1039.57L1168.06 1040.3M1153.3 1039.57L1154.09 1040.3M1197.47 1040.3L1198.52 1039.33M1198.57 1039.33L1199.63 1040.3M1184.61 1039.33L1185.66 1040.3M1249.84 1040.3L1253.31 1037.11M1284.67 1037.88L1286.35 1039.43M1270.7 1037.88L1273.33 1040.3M1313.82 1040.3L1315.92 1038.36M1315.97 1038.36L1317.66 1039.92M1302.01 1038.36L1304.11 1040.3M1356.79 936.02L1370.71 923.22M1356.79 948.87L1372.45 934.47M1356.79 961.72L1372.45 947.32M1356.79 974.57L1372.45 960.17M1356.79 987.42L1372.45 973.02M1356.79 1000.27L1372.45 985.87M1356.79 1013.12L1372.45 998.72M1356.79 1025.97L1372.45 1011.57M1356.79 1038.82L1372.45 1024.42M1369.15 1040.3L1372.45 1037.27M1402.07 931.93L1403.75 933.48M1388.1 931.93L1403.75 946.33M1388.1 944.78L1403.75 959.18M1388.1 957.63L1403.75 972.03M1388.1 970.48L1403.75 984.88M1388.1 983.33L1403.75 997.73M1388.1 996.18L1403.75 1010.58M1388.1 1009.03L1403.75 1023.43M1388.1 1021.88L1403.75 1036.28M1388.1 1034.73L1394.16 1040.3M1419.41 980.53L1433.32 967.73M1419.41 993.38L1435.06 978.98M1419.41 1006.23L1435.06 991.83M1419.41 1019.08L1435.06 1004.68M1419.41 1031.93L1435.06 1017.53M1424.28 1040.3L1435.06 1030.38M1433.37 967.73L1435.06 969.28M1419.41 967.73L1435.06 982.13M1419.41 980.58L1435.06 994.98M1419.41 993.43L1435.06 1007.83M1419.41 1006.28L1435.06 1020.68M1419.41 1019.13L1435.06 1033.53M1419.41 1031.98L1428.45 1040.3M1474.19 788.46L1488.11 775.66M1474.19 801.31L1489.85 786.91M1474.19 814.16L1489.85 799.76M1474.19 827.01L1489.85 812.61M1474.19 839.86L1489.85 825.46M1474.19 852.71L1489.85 838.31M1474.19 865.56L1489.85 851.16M1474.19 878.41L1489.85 864.01M1474.19 891.26L1489.85 876.86M1474.19 904.11L1489.85 889.71M1474.19 916.96L1489.85 902.56M1474.19 929.81L1489.85 915.41M1474.19 942.66L1489.85 928.26M1474.19 955.51L1489.85 941.11M1474.19 968.36L1489.85 953.96M1474.19 981.21L1489.85 966.81M1474.19 994.06L1489.85 979.66M1474.19 1006.91L1489.85 992.51M1474.19 1019.76L1489.85 1005.36M1474.19 1032.61L1489.85 1018.21M1479.8 1040.3L1489.85 1031.06M1519.47 756.31L1521.15 757.86M1505.5 756.31L1521.15 770.71M1505.5 769.16L1521.15 783.56M1505.5 782.01L1521.15 796.41M1505.5 794.86L1521.15 809.26M1505.5 807.71L1521.15 822.11M1505.5 820.56L1521.15 834.96M1505.5 833.41L1521.15 847.81M1505.5 846.26L1521.15 860.66M1505.5 859.11L1521.15 873.51M1505.5 871.96L1521.15 886.36M1505.5 884.81L1521.15 899.21M1505.5 897.66L1521.15 912.06M1505.5 910.51L1521.15 924.91M1505.5 923.36L1521.15 937.76M1505.5 936.21L1521.15 950.61M1505.5 949.06L1521.15 963.46M1505.5 961.91L1521.15 976.31M1505.5 974.76L1521.15 989.16M1505.5 987.61L1521.15 1002.01M1505.5 1000.46L1521.15 1014.86M1505.5 1013.31L1521.15 1027.71M1505.5 1026.16L1520.87 1040.3M1505.5 1039.01L1506.9 1040.3M1536.81 711.54L1550.72 698.74M1536.81 724.39L1552.46 709.99M1536.81 737.24L1552.46 722.84M1536.81 750.09L1552.46 735.69M1536.81 762.94L1552.46 748.54M1536.81 775.79L1552.46 761.39M1536.81 788.64L1552.46 774.24M1536.81 801.49L1552.46 787.09M1536.81 814.34L1552.46 799.94M1536.81 827.19L1552.46 812.79M1536.81 840.04L1552.46 825.64M1536.81 852.89L1552.46 838.49M1536.81 865.74L1552.46 851.34M1536.81 878.59L1552.46 864.19M1536.81 891.44L1552.46 877.04M1536.81 904.29L1552.46 889.89M1536.81 917.14L1552.46 902.74M1536.81 929.99L1552.46 915.59M1536.81 942.84L1552.46 928.44M1536.81 955.69L1552.46 941.29M1536.81 968.54L1552.46 954.14M1536.81 981.39L1552.46 966.99M1536.81 994.24L1552.46 979.84M1536.81 1007.09L1552.46 992.69M1536.81 1019.94L1552.46 1005.54M1536.81 1032.79L1552.46 1018.39M1542.61 1040.3L1552.46 1031.24M1550.77 698.74L1552.46 700.29M1536.81 698.74L1552.46 713.14M1536.81 711.59L1552.46 725.99M1536.81 724.44L1552.46 738.84M1536.81 737.29L1552.46 751.69M1536.81 750.14L1552.46 764.54M1536.81 762.99L1552.46 777.39M1536.81 775.84L1552.46 790.24M1536.81 788.69L1552.46 803.09M1536.81 801.54L1552.46 815.94M1536.81 814.39L1552.46 828.79M1536.81 827.24L1552.46 841.64M1536.81 840.09L1552.46 854.49M1536.81 852.94L1552.46 867.34M1536.81 865.79L1552.46 880.19M1536.81 878.64L1552.46 893.04M1536.81 891.49L1552.46 905.89M1536.81 904.34L1552.46 918.74M1536.81 917.19L1552.46 931.59M1536.81 930.04L1552.46 944.44M1536.81 942.89L1552.46 957.29M1536.81 955.74L1552.46 970.14M1536.81 968.59L1552.46 982.99M1536.81 981.44L1552.46 995.84M1536.81 994.29L1552.46 1008.69M1536.81 1007.14L1552.46 1021.54M1536.81 1019.99L1552.46 1034.39M1536.81 1032.84L1544.92 1040.3"/>
</g>
<path d="M859.8 556.5H1564.2V1040.3H859.8ZM859.8 943.54h10M859.8 846.78h10M859.8 750.02h10M859.8 653.26h10M977.2 1040.3v-5M1094.6 1040.3v-5M1212 1040.3v-5M1329.4 1040.3v-5M1446.8 1040.3v-5" fill="none" stroke="#6d6e71" stroke-width="1.2"/>
<g font-size="21.2" text-anchor="end">
<text x="849" y="1045.6">0</text>
<text x="849" y="948.84">20</text>
<text x="849" y="852.08">40</text>
<text x="849" y="755.32">60</text>
<text x="849" y="658.56">80</text>
<text x="849" y="561.8">100</text>
</g>
<g font-size="21.5" text-anchor="middle">
<text x="918.5" y="1067">&gt;5mm</text>
<text x="1035.9" y="1067">5-3mm</text>
<text x="1153.3" y="1067">3-2mm</text>
<text x="1270.7" y="1067">2-1mm</text>
<text x="1388.1" y="1067">1-0.25mm</text>
<text x="1505.5" y="1067">&lt;0.25mm</text>
</g>
<text x="867.2" y="611" font-size="52.8">D</text>
<text x="1078.12" y="659" font-size="38.8" text-anchor="middle" class="t">May, 2013</text>
<text x="1212" y="1108" font-size="26.2" text-anchor="middle">Aggregate size class (mm)</text>
</g>
<g id="panelE">
<g stroke="#231f20" stroke-width="1.2" fill="none">
<path d="M105.77 1394.96V1382.24M100.57 1382.24H110.97M121.59 1671.78V1671.53M116.39 1671.53H126.79M137.4 1461.54V1444.4M132.2 1444.4H142.6M169.04 1576.08V1553.56M163.84 1553.56H174.24M184.85 1671.53V1669.57M179.65 1669.57H190.05M224.4 1656.36V1655.87M219.2 1655.87H229.6M240.21 1670.55V1666.64M235.01 1666.64H245.41M256.03 1662.23V1658.51M250.83 1658.51H261.23M287.66 1662.48V1661.74M282.46 1661.74H292.86M343.02 1666V1665.76M337.82 1665.76H348.22M358.84 1670.75V1670.06M353.64 1670.06H364.04M374.65 1665.76V1659.78M369.45 1659.78H379.85M406.29 1669.57V1666.49M401.09 1666.49H411.49M461.65 1661.99V1660.52M456.45 1660.52H466.85M477.46 1670.26V1667.76M472.26 1667.76H482.66M493.28 1666.24V1659.49M488.08 1659.49H498.48M509.1 1671.78V1671.53M503.9 1671.53H514.3M524.91 1666.24V1661.5M519.71 1661.5H530.11M580.27 1640.01V1635.31M575.07 1635.31H585.47M596.09 1665.27V1664.48M590.89 1664.48H601.29M611.9 1643.24V1637.76M606.7 1637.76H617.1M627.72 1659.49V1649.26M622.52 1649.26H632.92M643.54 1653.27V1642.5M638.34 1642.5H648.74M659.35 1668.25V1667.27M654.15 1667.27H664.55M698.9 1527.13V1516.36M693.7 1516.36H704.1M714.71 1198.18V1191.33M709.51 1191.33H719.91M730.53 1448.81V1428.49M725.33 1428.49H735.73M746.35 1198.18V1188.39M741.15 1188.39H751.55M762.16 1321.05V1290.7M756.96 1290.7H767.36M777.98 1189.37V1185.46M772.78 1185.46H783.18"/>
</g>
<g stroke="#231f20" stroke-width="1.2">
<rect x="97.86" y="1394.96" width="15.82" height="278.04" fill="#231f20"/>
<rect x="113.68" y="1671.78" width="15.82" height="1.22" fill="#fff"/>
<rect x="129.5" y="1461.54" width="15.82" height="211.46" fill="#939598"/>
<rect x="145.31" y="1672.51" width="15.82" height="0.49" fill="#fff"/>
<rect x="161.13" y="1576.08" width="15.82" height="96.92" fill="#c7c8ca"/>
<rect x="176.95" y="1671.53" width="15.82" height="1.47" fill="#fff"/>
<rect x="216.49" y="1656.36" width="15.82" height="16.64" fill="#231f20"/>
<rect x="232.3" y="1670.55" width="15.82" height="2.45" fill="#fff"/>
<rect x="248.12" y="1662.23" width="15.82" height="10.77" fill="#939598"/>
<rect x="263.94" y="1672.51" width="15.82" height="0.49" fill="#fff"/>
<rect x="279.75" y="1662.48" width="15.82" height="10.52" fill="#c7c8ca"/>
<rect x="295.57" y="1672.51" width="15.82" height="0.49" fill="#fff"/>
<rect x="335.11" y="1666" width="15.82" height="7" fill="#231f20"/>
<rect x="350.93" y="1670.75" width="15.82" height="2.25" fill="#fff"/>
<rect x="366.75" y="1665.76" width="15.82" height="7.24" fill="#939598"/>
<rect x="382.56" y="1672.51" width="15.82" height="0.49" fill="#fff"/>
<rect x="398.38" y="1669.57" width="15.82" height="3.43" fill="#c7c8ca"/>
<rect x="414.2" y="1672.76" width="15.82" height="0.24" fill="#fff"/>
<rect x="453.74" y="1661.99" width="15.82" height="11.01" fill="#231f20"/>
<rect x="469.55" y="1670.26" width="15.82" height="2.74" fill="#fff"/>
<rect x="485.37" y="1666.24" width="15.82" height="6.76" fill="#939598"/>
<rect x="501.19" y="1671.78" width="15.82" height="1.22" fill="#fff"/>
<rect x="517" y="1666.24" width="15.82" height="6.76" fill="#c7c8ca"/>
<rect x="532.82" y="1672.51" width="15.82" height="0.49" fill="#fff"/>
<rect x="572.36" y="1640.01" width="15.82" height="32.99" fill="#231f20"/>
<rect x="588.18" y="1665.27" width="15.82" height="7.73" fill="#fff"/>
<rect x="604" y="1643.24" width="15.82" height="29.76" fill="#939598"/>
<rect x="619.81" y="1659.49" width="15.82" height="13.51" fill="#fff"/>
<rect x="635.63" y="1653.27" width="15.82" height="19.73" fill="#c7c8ca"/>
<rect x="651.45" y="1668.25" width="15.82" height="4.75" fill="#fff"/>
<rect x="690.99" y="1527.13" width="15.82" height="145.87" fill="#231f20"/>
<rect x="706.8" y="1198.18" width="15.82" height="474.82" fill="#fff"/>
<rect x="722.62" y="1448.81" width="15.82" height="224.19" fill="#939598"/>
<rect x="738.44" y="1198.18" width="15.82" height="474.82" fill="#fff"/>
<rect x="754.25" y="1321.05" width="15.82" height="351.95" fill="#c7c8ca"/>
<rect x="770.07" y="1189.37" width="15.82" height="483.63" fill="#fff"/>
<path fill="none" stroke-width="1.35" d="M145.31 1672.51L145.84 1673M189.48 1673L191.08 1671.53M191.08 1671.53L192.67 1673M176.95 1671.53L178.54 1673M263.94 1672.51L264.47 1673M309.17 1673L309.7 1672.51M309.7 1672.51L310.23 1673M295.57 1672.51L296.1 1673M382.56 1672.51L383.09 1673M501.19 1671.78L502.52 1673M546.42 1673L546.95 1672.51M546.95 1672.51L547.48 1673M532.82 1672.51L533.35 1673M619.81 1659.49L634.5 1673M660.42 1673L665.58 1668.25M665.58 1668.25L667.26 1669.8M651.45 1668.25L656.61 1673M706.8 1225.98L722.62 1211.43M706.8 1253.83L722.62 1239.28M706.8 1281.68L722.62 1267.13M706.8 1309.53L722.62 1294.98M706.8 1337.38L722.62 1322.83M706.8 1365.23L722.62 1350.68M706.8 1393.09L722.62 1378.53M706.8 1420.93L722.62 1406.38M706.8 1448.78L722.62 1434.23M706.8 1476.63L722.62 1462.08M706.8 1504.48L722.62 1489.93M706.8 1532.34L722.62 1517.78M706.8 1560.18L722.62 1545.63M706.8 1588.03L722.62 1573.48M706.8 1615.88L722.62 1601.33M706.8 1643.73L722.62 1629.18M706.8 1671.59L722.62 1657.03M738.44 1198.18L754.25 1212.74M738.44 1226.03L754.25 1240.59M738.44 1253.88L754.25 1268.44M738.44 1281.73L754.25 1296.29M738.44 1309.59L754.25 1324.14M738.44 1337.43L754.25 1351.99M738.44 1365.28L754.25 1379.84M738.44 1393.13L754.25 1407.69M738.44 1420.98L754.25 1435.54M738.44 1448.84L754.25 1463.39M738.44 1476.68L754.25 1491.24M738.44 1504.53L754.25 1519.09M738.44 1532.38L754.25 1546.94M738.44 1560.23L754.25 1574.79M738.44 1588.09L754.25 1602.64M738.44 1615.93L754.25 1630.49M738.44 1643.78L754.25 1658.34M738.44 1671.63L739.92 1673M770.07 1202.37L784.2 1189.37M770.07 1215.37L785.89 1200.82M770.07 1228.37L785.89 1213.82M770.07 1241.37L785.89 1226.82M770.07 1254.37L785.89 1239.82M770.07 1267.37L785.89 1252.82M770.07 1280.37L785.89 1265.82M770.07 1293.37L785.89 1278.82M770.07 1306.37L785.89 1291.82M770.07 1319.37L785.89 1304.82M770.07 1332.37L785.89 1317.82M770.07 1345.37L785.89 1330.82M770.07 1358.37L785.89 1343.82M770.07 1371.37L785.89 1356.82M770.07 1384.37L785.89 1369.82M770.07 1397.37L785.89 1382.82M770.07 1410.37L785.89 1395.82M770.07 1423.37L785.89 1408.82M770.07 1436.37L785.89 1421.82M770.07 1449.37L785.89 1434.82M770.07 1462.37L785.89 1447.82M770.07 1475.37L785.89 1460.82M770.07 1488.37L785.89 1473.82M770.07 1501.37L785.89 1486.82M770.07 1514.37L785.89 1499.82M770.07 1527.37L785.89 1512.82M770.07 1540.37L785.89 1525.82M770.07 1553.37L785.89 1538.82M770.07 1566.37L785.89 1551.82M770.07 1579.37L785.89 1564.82M770.07 1592.37L785.89 1577.82M770.07 1605.37L785.89 1590.82M770.07 1618.37L785.89 1603.82M770.07 1631.37L785.89 1616.82M770.07 1644.37L785.89 1629.82M770.07 1657.37L785.89 1642.82M770.07 1670.37L785.89 1655.82M781.35 1673L785.89 1668.82M784.2 1189.37L785.89 1190.93M770.07 1189.37L785.89 1203.93M770.07 1202.37L785.89 1216.93M770.07 1215.37L785.89 1229.93M770.07 1228.37L785.89 1242.93M770.07 1241.37L785.89 1255.93M770.07 1254.37L785.89 1268.93M770.07 1267.37L785.89 1281.93M770.07 1280.37L785.89 1294.93M770.07 1293.37L785.89 1307.93M770.07 1306.37L785.89 1320.93M770.07 1319.37L785.89 1333.93M770.07 1332.37L785.89 1346.93M770.07 1345.37L785.89 1359.93M770.07 1358.37L785.89 1372.93M770.07 1371.37L785.89 1385.93M770.07 1384.37L785.89 1398.93M770.07 1397.37L785.89 1411.93M770.07 1410.37L785.89 1424.93M770.07 1423.37L785.89 1437.93M770.07 1436.37L785.89 1450.93M770.07 1449.37L785.89 1463.93M770.07 1462.37L785.89 1476.93M770.07 1475.37L785.89 1489.93M770.07 1488.37L785.89 1502.93M770.07 1501.37L785.89 1515.93M770.07 1514.37L785.89 1528.93M770.07 1527.37L785.89 1541.93M770.07 1540.37L785.89 1554.93M770.07 1553.37L785.89 1567.93M770.07 1566.37L785.89 1580.93M770.07 1579.37L785.89 1593.93M770.07 1592.37L785.89 1606.93M770.07 1605.37L785.89 1619.93M770.07 1618.37L785.89 1632.93M770.07 1631.37L785.89 1645.93M770.07 1644.37L785.89 1658.93M770.07 1657.37L785.89 1671.93M770.07 1670.37L772.93 1673"/>
</g>
<path d="M86.4 1183.5H797.75V1673.3H86.4ZM86.4 1575.1h10M86.4 1477.2h10M86.4 1379.3h10M86.4 1281.4h10M204.62 1673.3v-5M323.25 1673.3v-5M441.88 1673.3v-5M560.5 1673.3v-5M679.12 1673.3v-5" fill="none" stroke="#6d6e71" stroke-width="1.2"/>
<g font-size="21.2" text-anchor="end">
<text x="75" y="1678.3">0</text>
<text x="75" y="1580.4">20</text>
<text x="75" y="1482.5">40</text>
<text x="75" y="1384.6">60</text>
<text x="75" y="1286.7">80</text>
<text x="75" y="1188.8">100</text>
</g>
<g font-size="21.8" text-anchor="middle">
<text x="145.31" y="1701">&gt;5mm</text>
<text x="263.94" y="1701">5-3mm</text>
<text x="382.56" y="1701">3-2mm</text>
<text x="501.19" y="1701">2-1mm</text>
<text x="619.81" y="1701">1-0.25mm</text>
<text x="738.44" y="1701">&lt;0.25mm</text>
</g>
<text x="91.4" y="1239" font-size="52.8">E</text>
<text x="374.75" y="1285" font-size="38.8" text-anchor="middle" class="t">Aug, 2012</text>
<text transform="translate(18.8 1445.4) rotate(-90)" font-size="25.8" text-anchor="middle">Aggregate dry weight (% of soil)</text>
</g>
<g id="panelF">
<g stroke="#231f20" stroke-width="1.2" fill="none">
<path d="M880.24 1356.29V1350.42M875.04 1350.42H885.44M911.81 1416.26V1396.92M906.61 1396.92H917.01M943.39 1617.2V1599.77M938.19 1599.77H948.59M998.65 1659.49V1651.46M993.45 1651.46H1003.85M1014.44 1670.06V1664.48M1009.24 1664.48H1019.64M1030.23 1655.52V1652.73M1025.03 1652.73H1035.43M1061.81 1668.25V1665.76M1056.61 1665.76H1067.01M1117.07 1667.52V1665.51M1111.87 1665.51H1122.27M1132.86 1671.04V1669.77M1127.66 1669.77H1138.06M1148.65 1666.49V1663.5M1143.45 1663.5H1153.85M1180.22 1670.26V1668.74M1175.02 1668.74H1185.42M1235.49 1663.5V1659.49M1230.29 1659.49H1240.69M1251.27 1670.55V1667.52M1246.07 1667.52H1256.47M1267.06 1663.5V1659.49M1261.86 1659.49H1272.26M1282.85 1671.78V1671.53M1277.65 1671.53H1288.05M1298.64 1668.25V1665.27M1293.44 1665.27H1303.84M1353.9 1647.25V1633.35M1348.7 1633.35H1359.1M1369.69 1668.11V1664.48M1364.49 1664.48H1374.89M1385.48 1646.27V1636.29M1380.28 1636.29H1390.68M1401.27 1666.24V1662.48M1396.07 1662.48H1406.47M1417.06 1658.02V1652.44M1411.86 1652.44H1422.26M1432.85 1670.55V1669.77M1427.65 1669.77H1438.05M1472.32 1552.73V1523.21M1467.12 1523.21H1477.52M1488.11 1194.51V1186.93M1482.91 1186.93H1493.31M1503.9 1500.21V1494.33M1498.7 1494.33H1509.1M1519.69 1190.35V1189.86M1514.49 1189.86H1524.89M1535.48 1265.49V1241.26M1530.28 1241.26H1540.68M1551.26 1185.46V1184.48M1546.06 1184.48H1556.46"/>
</g>
<g stroke="#231f20" stroke-width="1.2">
<rect x="872.34" y="1356.29" width="15.79" height="316.71" fill="#231f20"/>
<rect x="903.92" y="1416.26" width="15.79" height="256.74" fill="#939598"/>
<rect x="935.5" y="1617.2" width="15.79" height="55.8" fill="#c7c8ca"/>
<rect x="990.76" y="1659.49" width="15.79" height="13.51" fill="#231f20"/>
<rect x="1006.55" y="1670.06" width="15.79" height="2.94" fill="#fff"/>
<rect x="1022.34" y="1655.52" width="15.79" height="17.48" fill="#939598"/>
<rect x="1038.12" y="1672.51" width="15.79" height="0.49" fill="#fff"/>
<rect x="1053.91" y="1668.25" width="15.79" height="4.75" fill="#c7c8ca"/>
<rect x="1109.17" y="1667.52" width="15.79" height="5.48" fill="#231f20"/>
<rect x="1124.96" y="1671.04" width="15.79" height="1.96" fill="#fff"/>
<rect x="1140.75" y="1666.49" width="15.79" height="6.51" fill="#939598"/>
<rect x="1156.54" y="1672.76" width="15.79" height="0.24" fill="#fff"/>
<rect x="1172.33" y="1670.26" width="15.79" height="2.74" fill="#c7c8ca"/>
<rect x="1227.59" y="1663.5" width="15.79" height="9.5" fill="#231f20"/>
<rect x="1243.38" y="1670.55" width="15.79" height="2.45" fill="#fff"/>
<rect x="1259.17" y="1663.5" width="15.79" height="9.5" fill="#939598"/>
<rect x="1274.96" y="1671.78" width="15.79" height="1.22" fill="#fff"/>
<rect x="1290.75" y="1668.25" width="15.79" height="4.75" fill="#c7c8ca"/>
<rect x="1306.54" y="1672.51" width="15.79" height="0.49" fill="#fff"/>
<rect x="1346.01" y="1647.25" width="15.79" height="25.75" fill="#231f20"/>
<rect x="1361.8" y="1668.11" width="15.79" height="4.89" fill="#fff"/>
<rect x="1377.59" y="1646.27" width="15.79" height="26.73" fill="#939598"/>
<rect x="1393.38" y="1666.24" width="15.79" height="6.76" fill="#fff"/>
<rect x="1409.16" y="1658.02" width="15.79" height="14.98" fill="#c7c8ca"/>
<rect x="1424.95" y="1670.55" width="15.79" height="2.45" fill="#fff"/>
<rect x="1464.43" y="1552.73" width="15.79" height="120.27" fill="#231f20"/>
<rect x="1480.21" y="1194.51" width="15.79" height="478.49" fill="#fff"/>
<rect x="1496" y="1500.21" width="15.79" height="172.79" fill="#939598"/>
<rect x="1511.79" y="1190.35" width="15.79" height="482.65" fill="#fff"/>
<rect x="1527.58" y="1265.49" width="15.79" height="407.51" fill="#c7c8ca"/>
<rect x="1543.37" y="1185.46" width="15.79" height="487.54" fill="#fff"/>
<path fill="none" stroke-width="1.35" d="M1038.12 1672.51L1038.66 1673M1274.96 1671.78L1276.29 1673M1320.13 1673L1320.67 1672.51M1320.67 1672.51L1321.2 1673M1306.54 1672.51L1307.07 1673M1393.38 1666.24L1400.72 1673M1436.42 1673L1439.08 1670.55M1439.08 1670.55L1440.74 1672.08M1424.95 1670.55L1427.61 1673M1480.21 1222.31L1496 1207.79M1480.21 1250.16L1496 1235.64M1480.21 1278.01L1496 1263.49M1480.21 1305.86L1496 1291.34M1480.21 1333.71L1496 1319.19M1480.21 1361.56L1496 1347.04M1480.21 1389.41L1496 1374.89M1480.21 1417.26L1496 1402.74M1480.21 1445.11L1496 1430.59M1480.21 1472.96L1496 1458.44M1480.21 1500.81L1496 1486.29M1480.21 1528.66L1496 1514.14M1480.21 1556.51L1496 1541.99M1480.21 1584.36L1496 1569.84M1480.21 1612.21L1496 1597.69M1480.21 1640.06L1496 1625.54M1480.21 1667.91L1496 1653.39M1511.79 1190.35L1527.58 1204.88M1511.79 1218.2L1527.58 1232.73M1511.79 1246.05L1527.58 1260.58M1511.79 1273.9L1527.58 1288.43M1511.79 1301.75L1527.58 1316.28M1511.79 1329.6L1527.58 1344.13M1511.79 1357.45L1527.58 1371.98M1511.79 1385.3L1527.58 1399.83M1511.79 1413.15L1527.58 1427.68M1511.79 1441L1527.58 1455.53M1511.79 1468.85L1527.58 1483.38M1511.79 1496.7L1527.58 1511.23M1511.79 1524.55L1527.58 1539.08M1511.79 1552.4L1527.58 1566.93M1511.79 1580.25L1527.58 1594.78M1511.79 1608.1L1527.58 1622.63M1511.79 1635.95L1527.58 1650.48M1511.79 1663.8L1521.79 1673M1543.37 1198.46L1557.5 1185.46M1543.37 1211.46L1559.16 1196.93M1543.37 1224.46L1559.16 1209.93M1543.37 1237.46L1559.16 1222.93M1543.37 1250.46L1559.16 1235.93M1543.37 1263.46L1559.16 1248.93M1543.37 1276.46L1559.16 1261.93M1543.37 1289.46L1559.16 1274.93M1543.37 1302.46L1559.16 1287.93M1543.37 1315.46L1559.16 1300.93M1543.37 1328.46L1559.16 1313.93M1543.37 1341.46L1559.16 1326.93M1543.37 1354.46L1559.16 1339.93M1543.37 1367.46L1559.16 1352.93M1543.37 1380.46L1559.16 1365.93M1543.37 1393.46L1559.16 1378.93M1543.37 1406.46L1559.16 1391.93M1543.37 1419.46L1559.16 1404.93M1543.37 1432.46L1559.16 1417.93M1543.37 1445.46L1559.16 1430.93M1543.37 1458.46L1559.16 1443.93M1543.37 1471.46L1559.16 1456.93M1543.37 1484.46L1559.16 1469.93M1543.37 1497.46L1559.16 1482.93M1543.37 1510.46L1559.16 1495.93M1543.37 1523.46L1559.16 1508.93M1543.37 1536.46L1559.16 1521.93M1543.37 1549.46L1559.16 1534.93M1543.37 1562.46L1559.16 1547.93M1543.37 1575.46L1559.16 1560.93M1543.37 1588.46L1559.16 1573.93M1543.37 1601.46L1559.16 1586.93M1543.37 1614.46L1559.16 1599.93M1543.37 1627.46L1559.16 1612.93M1543.37 1640.46L1559.16 1625.93M1543.37 1653.46L1559.16 1638.93M1543.37 1666.46L1559.16 1651.93M1550.39 1673L1559.16 1664.93M1557.5 1185.46L1559.16 1186.98M1543.37 1185.46L1559.16 1199.98M1543.37 1198.46L1559.16 1212.98M1543.37 1211.46L1559.16 1225.98M1543.37 1224.46L1559.16 1238.98M1543.37 1237.46L1559.16 1251.98M1543.37 1250.46L1559.16 1264.98M1543.37 1263.46L1559.16 1277.98M1543.37 1276.46L1559.16 1290.98M1543.37 1289.46L1559.16 1303.98M1543.37 1302.46L1559.16 1316.98M1543.37 1315.46L1559.16 1329.98M1543.37 1328.46L1559.16 1342.98M1543.37 1341.46L1559.16 1355.98M1543.37 1354.46L1559.16 1368.98M1543.37 1367.46L1559.16 1381.98M1543.37 1380.46L1559.16 1394.98M1543.37 1393.46L1559.16 1407.98M1543.37 1406.46L1559.16 1420.98M1543.37 1419.46L1559.16 1433.98M1543.37 1432.46L1559.16 1446.98M1543.37 1445.46L1559.16 1459.98M1543.37 1458.46L1559.16 1472.98M1543.37 1471.46L1559.16 1485.98M1543.37 1484.46L1559.16 1498.98M1543.37 1497.46L1559.16 1511.98M1543.37 1510.46L1559.16 1524.98M1543.37 1523.46L1559.16 1537.98M1543.37 1536.46L1559.16 1550.98M1543.37 1549.46L1559.16 1563.98M1543.37 1562.46L1559.16 1576.98M1543.37 1575.46L1559.16 1589.98M1543.37 1588.46L1559.16 1602.98M1543.37 1601.46L1559.16 1615.98M1543.37 1614.46L1559.16 1628.98M1543.37 1627.46L1559.16 1641.98M1543.37 1640.46L1559.16 1654.98M1543.37 1653.46L1559.16 1667.98M1543.37 1666.46L1550.48 1673"/>
</g>
<path d="M860.5 1183.5H1571.4V1673.3H860.5ZM860.5 1575.1h10M860.5 1477.2h10M860.5 1379.3h10M860.5 1281.4h10M860.5 1673.3v5M978.92 1673.3v5M1097.33 1673.3v5M1215.75 1673.3v5M1334.17 1673.3v5M1452.58 1673.3v5M1571.4 1673.3v5" fill="none" stroke="#6d6e71" stroke-width="1.2"/>
<path d="M919.71 1673.3v10M1038.12 1673.3v10M1156.54 1673.3v10M1274.96 1673.3v10M1393.38 1673.3v10M1511.79 1673.3v10" fill="none" stroke="#231f20" stroke-width="1.2"/>
<g font-size="21.2" text-anchor="end">
<text x="849.5" y="1678.3">0</text>
<text x="849.5" y="1580.4">20</text>
<text x="849.5" y="1482.5">40</text>
<text x="849.5" y="1384.6">60</text>
<text x="849.5" y="1286.7">80</text>
<text x="849.5" y="1188.8">100</text>
</g>
<g font-size="21.8" text-anchor="middle">
<text x="920.51" y="1706">&gt;5mm</text>
<text x="1038.92" y="1706">5-3mm</text>
<text x="1157.34" y="1706">3-2mm</text>
<text x="1275.76" y="1706">2-1mm</text>
<text x="1394.17" y="1706">1-0.25mm</text>
<text x="1512.59" y="1706">&lt;0.25mm</text>
</g>
<text x="866" y="1239" font-size="52.8">F</text>
<text x="1155" y="1285" font-size="38.8" text-anchor="middle" class="t">Nov, 2012</text>
</g>
<g id="panelG">
<g stroke="#231f20" stroke-width="1.2" fill="none">
<path d="M105.77 1968.14V1958.84M100.57 1958.84H110.97M137.4 1980.14V1931.41M132.2 1931.41H142.6M169.04 2170.9V2159.63M163.84 2159.63H174.24M224.4 2207.73V2205.67M219.2 2205.67H229.6M256.03 2208.76V2206.16M250.83 2206.16H261.23M287.66 2217.77V2215.47M282.46 2215.47H292.86M343.02 2216.44V2212.77M337.82 2212.77H348.22M374.65 2218.99V2215.95M369.45 2215.95H379.85M406.29 2221.98V2221.49M401.09 2221.49H411.49M461.65 2210.76V2204.49M456.45 2204.49H466.85M493.28 2213.26V2208.76M488.08 2208.76H498.48M509.1 2224.28V2224.04M503.9 2224.04H514.3M524.91 2218.26V2217.77M519.71 2217.77H530.11M580.27 2161.74V2157.48M575.07 2157.48H585.47M596.09 2217.77V2216.74M590.89 2216.74H601.29M611.9 2192.45V2181.67M606.7 2181.67H617.1M627.72 2216.98V2212.23M622.52 2212.23H632.92M643.54 2201.51V2191.47M638.34 2191.47H648.74M698.9 2099.39V2095.18M693.7 2095.18H704.1M714.71 1744.82V1744.33M709.51 1744.33H719.91M730.53 2051.15V2010.26M725.33 2010.26H735.73M746.35 1745.31V1739.92M741.15 1739.92H751.55M762.16 1834.44V1812.4M756.96 1812.4H767.36M777.98 1741.39V1740.41M772.78 1740.41H783.18"/>
</g>
<g stroke="#231f20" stroke-width="1.2">
<rect x="97.86" y="1968.14" width="15.82" height="257.61" fill="#231f20"/>
<rect x="129.5" y="1980.14" width="15.82" height="245.61" fill="#939598"/>
<rect x="161.13" y="2170.9" width="15.82" height="54.85" fill="#c7c8ca"/>
<rect x="216.49" y="2207.73" width="15.82" height="18.02" fill="#231f20"/>
<rect x="232.3" y="2225.26" width="15.82" height="0.49" fill="#fff"/>
<rect x="248.12" y="2208.76" width="15.82" height="16.99" fill="#939598"/>
<rect x="263.94" y="2225.51" width="15.82" height="0.24" fill="#fff"/>
<rect x="279.75" y="2217.77" width="15.82" height="7.98" fill="#c7c8ca"/>
<rect x="295.57" y="2224.77" width="15.82" height="0.98" fill="#fff"/>
<rect x="335.11" y="2216.44" width="15.82" height="9.31" fill="#231f20"/>
<rect x="350.93" y="2225.26" width="15.82" height="0.49" fill="#fff"/>
<rect x="366.75" y="2218.99" width="15.82" height="6.76" fill="#939598"/>
<rect x="382.56" y="2225.51" width="15.82" height="0.24" fill="#fff"/>
<rect x="398.38" y="2221.98" width="15.82" height="3.77" fill="#c7c8ca"/>
<rect x="414.2" y="2225.02" width="15.82" height="0.73" fill="#fff"/>
<rect x="453.74" y="2210.76" width="15.82" height="14.99" fill="#231f20"/>
<rect x="469.55" y="2224.77" width="15.82" height="0.98" fill="#fff"/>
<rect x="485.37" y="2213.26" width="15.82" height="12.49" fill="#939598"/>
<rect x="501.19" y="2224.28" width="15.82" height="1.47" fill="#fff"/>
<rect x="517" y="2218.26" width="15.82" height="7.49" fill="#c7c8ca"/>
<rect x="532.82" y="2224.77" width="15.82" height="0.98" fill="#fff"/>
<rect x="572.36" y="2161.74" width="15.82" height="64.01" fill="#231f20"/>
<rect x="588.18" y="2217.77" width="15.82" height="7.98" fill="#fff"/>
<rect x="604" y="2192.45" width="15.82" height="33.3" fill="#939598"/>
<rect x="619.81" y="2216.98" width="15.82" height="8.77" fill="#fff"/>
<rect x="635.63" y="2201.51" width="15.82" height="24.24" fill="#c7c8ca"/>
<rect x="651.45" y="2220.51" width="15.82" height="5.24" fill="#fff"/>
<rect x="690.99" y="2099.39" width="15.82" height="126.36" fill="#231f20"/>
<rect x="706.8" y="1744.82" width="15.82" height="480.93" fill="#fff"/>
<rect x="722.62" y="2051.15" width="15.82" height="174.6" fill="#939598"/>
<rect x="738.44" y="1745.31" width="15.82" height="480.44" fill="#fff"/>
<rect x="754.25" y="1834.44" width="15.82" height="391.31" fill="#c7c8ca"/>
<rect x="770.07" y="1741.39" width="15.82" height="484.36" fill="#fff"/>
<path fill="none" stroke-width="1.35" d="M308.64 2225.75L309.7 2224.77M309.7 2224.77L310.77 2225.75M295.57 2224.77L296.64 2225.75M427.53 2225.75L428.33 2225.02M428.33 2225.02L429.12 2225.75M414.2 2225.02L414.99 2225.75M501.19 2224.28L502.78 2225.75M545.89 2225.75L546.95 2224.77M546.95 2224.77L548.02 2225.75M532.82 2224.77L533.89 2225.75M619.81 2216.98L629.34 2225.75M659.88 2225.75L665.58 2220.51M665.58 2220.51L667.26 2222.06M651.45 2220.51L657.14 2225.75M706.8 1772.62L722.62 1758.06M706.8 1800.47L722.62 1785.91M706.8 1828.32L722.62 1813.76M706.8 1856.17L722.62 1841.61M706.8 1884.02L722.62 1869.46M706.8 1911.87L722.62 1897.31M706.8 1939.72L722.62 1925.16M706.8 1967.57L722.62 1953.01M706.8 1995.42L722.62 1980.86M706.8 2023.27L722.62 2008.71M706.8 2051.12L722.62 2036.56M706.8 2078.97L722.62 2064.41M706.8 2106.82L722.62 2092.26M706.8 2134.67L722.62 2120.11M706.8 2162.52L722.62 2147.96M706.8 2190.37L722.62 2175.81M706.8 2218.22L722.62 2203.66M738.44 1745.31L754.25 1759.86M738.44 1773.16L754.25 1787.71M738.44 1801.01L754.25 1815.56M738.44 1828.86L754.25 1843.41M738.44 1856.71L754.25 1871.26M738.44 1884.56L754.25 1899.11M738.44 1912.41L754.25 1926.96M738.44 1940.26L754.25 1954.81M738.44 1968.11L754.25 1982.66M738.44 1995.96L754.25 2010.51M738.44 2023.81L754.25 2038.36M738.44 2051.66L754.25 2066.21M738.44 2079.51L754.25 2094.06M738.44 2107.36L754.25 2121.91M738.44 2135.21L754.25 2149.76M738.44 2163.06L754.25 2177.61M738.44 2190.91L754.25 2205.46M738.44 2218.76L746.04 2225.75M770.07 1754.39L784.2 1741.39M770.07 1767.39L785.89 1752.84M770.07 1780.39L785.89 1765.84M770.07 1793.39L785.89 1778.84M770.07 1806.39L785.89 1791.84M770.07 1819.39L785.89 1804.84M770.07 1832.39L785.89 1817.84M770.07 1845.39L785.89 1830.84M770.07 1858.39L785.89 1843.84M770.07 1871.39L785.89 1856.84M770.07 1884.39L785.89 1869.84M770.07 1897.39L785.89 1882.84M770.07 1910.39L785.89 1895.84M770.07 1923.39L785.89 1908.84M770.07 1936.39L785.89 1921.84M770.07 1949.39L785.89 1934.84M770.07 1962.39L785.89 1947.84M770.07 1975.39L785.89 1960.84M770.07 1988.39L785.89 1973.84M770.07 2001.39L785.89 1986.84M770.07 2014.39L785.89 1999.84M770.07 2027.39L785.89 2012.84M770.07 2040.39L785.89 2025.84M770.07 2053.39L785.89 2038.84M770.07 2066.39L785.89 2051.84M770.07 2079.39L785.89 2064.84M770.07 2092.39L785.89 2077.84M770.07 2105.39L785.89 2090.84M770.07 2118.39L785.89 2103.84M770.07 2131.39L785.89 2116.84M770.07 2144.39L785.89 2129.84M770.07 2157.39L785.89 2142.84M770.07 2170.39L785.89 2155.84M770.07 2183.39L785.89 2168.84M770.07 2196.39L785.89 2181.84M770.07 2209.39L785.89 2194.84M770.07 2222.39L785.89 2207.84M780.55 2225.75L785.89 2220.84M784.2 1741.39L785.89 1742.94M770.07 1741.39L785.89 1755.94M770.07 1754.39L785.89 1768.94M770.07 1767.39L785.89 1781.94M770.07 1780.39L785.89 1794.94M770.07 1793.39L785.89 1807.94M770.07 1806.39L785.89 1820.94M770.07 1819.39L785.89 1833.94M770.07 1832.39L785.89 1846.94M770.07 1845.39L785.89 1859.94M770.07 1858.39L785.89 1872.94M770.07 1871.39L785.89 1885.94M770.07 1884.39L785.89 1898.94M770.07 1897.39L785.89 1911.94M770.07 1910.39L785.89 1924.94M770.07 1923.39L785.89 1937.94M770.07 1936.39L785.89 1950.94M770.07 1949.39L785.89 1963.94M770.07 1962.39L785.89 1976.94M770.07 1975.39L785.89 1989.94M770.07 1988.39L785.89 2002.94M770.07 2001.39L785.89 2015.94M770.07 2014.39L785.89 2028.94M770.07 2027.39L785.89 2041.94M770.07 2040.39L785.89 2054.94M770.07 2053.39L785.89 2067.94M770.07 2066.39L785.89 2080.94M770.07 2079.39L785.89 2093.94M770.07 2092.39L785.89 2106.94M770.07 2105.39L785.89 2119.94M770.07 2118.39L785.89 2132.94M770.07 2131.39L785.89 2145.94M770.07 2144.39L785.89 2158.94M770.07 2157.39L785.89 2171.94M770.07 2170.39L785.89 2184.94M770.07 2183.39L785.89 2197.94M770.07 2196.39L785.89 2210.94M770.07 2209.39L785.89 2223.94M770.07 2222.39L773.73 2225.75"/>
</g>
<path d="M86.4 1736H797.75V2226.05H86.4ZM86.4 2127.8h10M86.4 2029.85h10M86.4 1931.9h10M86.4 1833.95h10M204.62 2226.05v-5M323.25 2226.05v-5M441.88 2226.05v-5M560.5 2226.05v-5M679.12 2226.05v-5" fill="none" stroke="#6d6e71" stroke-width="1.2"/>
<g font-size="21.2" text-anchor="end">
<text x="75" y="2231.05">0</text>
<text x="75" y="2133.1">20</text>
<text x="75" y="2035.15">40</text>
<text x="75" y="1937.2">60</text>
<text x="75" y="1839.25">80</text>
<text x="75" y="1741.3">100</text>
</g>
<g font-size="21.8" text-anchor="middle">
<text x="145.31" y="2253">&gt;5mm</text>
<text x="263.94" y="2253">5-3mm</text>
<text x="382.56" y="2253">3-2mm</text>
<text x="501.19" y="2253">2-1mm</text>
<text x="619.81" y="2253">1-0.25mm</text>
<text x="738.44" y="2253">&lt;0.25mm</text>
</g>
<text x="91.6" y="1790" font-size="52.8">G</text>
<text x="370" y="1837" font-size="38.8" text-anchor="middle" class="t">Feb, 2013</text>
<text transform="translate(18.8 1998.2) rotate(-90)" font-size="25.8" text-anchor="middle">Aggregate dry weight (% of soil)</text>
<text x="442.3" y="2295" font-size="26.6" text-anchor="middle">Aggregate size class (mm)</text>
</g>
<g id="panelH">
<g stroke="#231f20" stroke-width="1.2" fill="none">
<path d="M880.24 1962.26V1921.13M875.04 1921.13H885.44M911.81 1987.24V1984.79M906.61 1984.79H917.01M943.39 2178V2175.31M938.19 2175.31H948.59M998.65 2198.47V2194.41M993.45 2194.41H1003.85M1030.23 2204.98V2199.5M1025.03 2199.5H1035.43M1061.81 2212.53V2203.71M1056.61 2203.71H1067.01M1117.07 2215.76V2213.02M1111.87 2213.02H1122.27M1148.65 2216.98V2215.95M1143.45 2215.95H1153.85M1180.22 2218.75V2214.98M1175.02 2214.98H1185.42M1235.49 2206.75V2202.24M1230.29 2202.24H1240.69M1267.06 2210.76V2210.22M1261.86 2210.22H1272.26M1298.64 2215.95V2213.26M1293.44 2213.26H1303.84M1353.9 2173.84V2166.49M1348.7 2166.49H1359.1M1369.69 2215.47V2210.57M1364.49 2210.57H1374.89M1385.48 2184.61V2180.5M1380.28 2180.5H1390.68M1401.27 2221.49V2219.87M1396.07 2219.87H1406.47M1417.06 2196.22V2195.88M1411.86 2195.88H1422.26M1432.85 2222.81V2221.98M1427.65 2221.98H1438.05M1472.32 2108.21V2076.87M1467.12 2076.87H1477.52M1488.11 1747.75V1741.39M1482.91 1741.39H1493.31M1503.9 2060.41V2050.91M1498.7 2050.91H1509.1M1519.69 1740.9V1738.45M1514.49 1738.45H1524.89M1535.48 1843.74V1830.52M1530.28 1830.52H1540.68M1551.26 1739.43V1738.45M1546.06 1738.45H1556.46"/>
</g>
<g stroke="#231f20" stroke-width="1.2">
<rect x="872.34" y="1962.26" width="15.79" height="263.49" fill="#231f20"/>
<rect x="903.92" y="1987.24" width="15.79" height="238.51" fill="#939598"/>
<rect x="935.5" y="2178" width="15.79" height="47.75" fill="#c7c8ca"/>
<rect x="990.76" y="2198.47" width="15.79" height="27.28" fill="#231f20"/>
<rect x="1006.55" y="2225.02" width="15.79" height="0.73" fill="#fff"/>
<rect x="1022.34" y="2204.98" width="15.79" height="20.77" fill="#939598"/>
<rect x="1038.12" y="2225.51" width="15.79" height="0.24" fill="#fff"/>
<rect x="1053.91" y="2212.53" width="15.79" height="13.22" fill="#c7c8ca"/>
<rect x="1109.17" y="2215.76" width="15.79" height="9.99" fill="#231f20"/>
<rect x="1124.96" y="2224.77" width="15.79" height="0.98" fill="#fff"/>
<rect x="1140.75" y="2216.98" width="15.79" height="8.77" fill="#939598"/>
<rect x="1156.54" y="2225.51" width="15.79" height="0.24" fill="#fff"/>
<rect x="1172.33" y="2218.75" width="15.79" height="7" fill="#c7c8ca"/>
<rect x="1188.12" y="2225.02" width="15.79" height="0.73" fill="#fff"/>
<rect x="1227.59" y="2206.75" width="15.79" height="19" fill="#231f20"/>
<rect x="1243.38" y="2224.53" width="15.79" height="1.22" fill="#fff"/>
<rect x="1259.17" y="2210.76" width="15.79" height="14.99" fill="#939598"/>
<rect x="1274.96" y="2224.77" width="15.79" height="0.98" fill="#fff"/>
<rect x="1290.75" y="2215.95" width="15.79" height="9.8" fill="#c7c8ca"/>
<rect x="1306.54" y="2225.02" width="15.79" height="0.73" fill="#fff"/>
<rect x="1346.01" y="2173.84" width="15.79" height="51.91" fill="#231f20"/>
<rect x="1361.8" y="2215.47" width="15.79" height="10.28" fill="#fff"/>
<rect x="1377.59" y="2184.61" width="15.79" height="41.14" fill="#939598"/>
<rect x="1393.38" y="2221.49" width="15.79" height="4.26" fill="#fff"/>
<rect x="1409.16" y="2196.22" width="15.79" height="29.53" fill="#c7c8ca"/>
<rect x="1424.95" y="2222.81" width="15.79" height="2.94" fill="#fff"/>
<rect x="1464.43" y="2108.21" width="15.79" height="117.54" fill="#231f20"/>
<rect x="1480.21" y="1747.75" width="15.79" height="478" fill="#fff"/>
<rect x="1496" y="2060.41" width="15.79" height="165.34" fill="#939598"/>
<rect x="1511.79" y="1740.9" width="15.79" height="484.85" fill="#fff"/>
<rect x="1527.58" y="1843.74" width="15.79" height="382.01" fill="#c7c8ca"/>
<rect x="1543.37" y="1739.43" width="15.79" height="486.32" fill="#fff"/>
<path fill="none" stroke-width="1.35" d="M1201.45 2225.75L1202.25 2225.02M1202.25 2225.02L1203.05 2225.75M1188.12 2225.02L1188.92 2225.75M1274.96 2224.77L1276.02 2225.75M1319.87 2225.75L1320.67 2225.02M1320.67 2225.02L1321.47 2225.75M1306.54 2225.02L1307.33 2225.75M1393.38 2221.49L1398.01 2225.75M1435.89 2225.75L1439.08 2222.81M1439.08 2222.81L1440.74 2224.34M1424.95 2222.81L1428.15 2225.75M1480.21 1775.55L1496 1761.03M1480.21 1803.4L1496 1788.88M1480.21 1831.25L1496 1816.73M1480.21 1859.1L1496 1844.58M1480.21 1886.95L1496 1872.43M1480.21 1914.8L1496 1900.28M1480.21 1942.65L1496 1928.13M1480.21 1970.5L1496 1955.98M1480.21 1998.35L1496 1983.83M1480.21 2026.2L1496 2011.68M1480.21 2054.05L1496 2039.53M1480.21 2081.9L1496 2067.38M1480.21 2109.75L1496 2095.23M1480.21 2137.6L1496 2123.08M1480.21 2165.45L1496 2150.93M1480.21 2193.3L1496 2178.78M1480.21 2221.15L1496 2206.63M1511.79 1740.9L1527.58 1755.42M1511.79 1768.75L1527.58 1783.27M1511.79 1796.6L1527.58 1811.12M1511.79 1824.45L1527.58 1838.97M1511.79 1852.3L1527.58 1866.82M1511.79 1880.15L1527.58 1894.67M1511.79 1908L1527.58 1922.52M1511.79 1935.85L1527.58 1950.37M1511.79 1963.7L1527.58 1978.22M1511.79 1991.55L1527.58 2006.07M1511.79 2019.4L1527.58 2033.92M1511.79 2047.25L1527.58 2061.77M1511.79 2075.1L1527.58 2089.62M1511.79 2102.95L1527.58 2117.47M1511.79 2130.8L1527.58 2145.32M1511.79 2158.65L1527.58 2173.17M1511.79 2186.5L1527.58 2201.02M1511.79 2214.35L1524.19 2225.75M1543.37 1752.43L1557.5 1739.43M1543.37 1765.43L1559.16 1750.9M1543.37 1778.43L1559.16 1763.9M1543.37 1791.43L1559.16 1776.9M1543.37 1804.43L1559.16 1789.9M1543.37 1817.43L1559.16 1802.9M1543.37 1830.43L1559.16 1815.9M1543.37 1843.43L1559.16 1828.9M1543.37 1856.43L1559.16 1841.9M1543.37 1869.43L1559.16 1854.9M1543.37 1882.43L1559.16 1867.9M1543.37 1895.43L1559.16 1880.9M1543.37 1908.43L1559.16 1893.9M1543.37 1921.43L1559.16 1906.9M1543.37 1934.43L1559.16 1919.9M1543.37 1947.43L1559.16 1932.9M1543.37 1960.43L1559.16 1945.9M1543.37 1973.43L1559.16 1958.9M1543.37 1986.43L1559.16 1971.9M1543.37 1999.43L1559.16 1984.9M1543.37 2012.43L1559.16 1997.9M1543.37 2025.43L1559.16 2010.9M1543.37 2038.43L1559.16 2023.9M1543.37 2051.43L1559.16 2036.9M1543.37 2064.43L1559.16 2049.9M1543.37 2077.43L1559.16 2062.9M1543.37 2090.43L1559.16 2075.9M1543.37 2103.43L1559.16 2088.9M1543.37 2116.43L1559.16 2101.9M1543.37 2129.43L1559.16 2114.9M1543.37 2142.43L1559.16 2127.9M1543.37 2155.43L1559.16 2140.9M1543.37 2168.43L1559.16 2153.9M1543.37 2181.43L1559.16 2166.9M1543.37 2194.43L1559.16 2179.9M1543.37 2207.43L1559.16 2192.9M1543.37 2220.43L1559.16 2205.9M1551.72 2225.75L1559.16 2218.9M1557.5 1739.43L1559.16 1740.95M1543.37 1739.43L1559.16 1753.95M1543.37 1752.43L1559.16 1766.95M1543.37 1765.43L1559.16 1779.95M1543.37 1778.43L1559.16 1792.95M1543.37 1791.43L1559.16 1805.95M1543.37 1804.43L1559.16 1818.95M1543.37 1817.43L1559.16 1831.95M1543.37 1830.43L1559.16 1844.95M1543.37 1843.43L1559.16 1857.95M1543.37 1856.43L1559.16 1870.95M1543.37 1869.43L1559.16 1883.95M1543.37 1882.43L1559.16 1896.95M1543.37 1895.43L1559.16 1909.95M1543.37 1908.43L1559.16 1922.95M1543.37 1921.43L1559.16 1935.95M1543.37 1934.43L1559.16 1948.95M1543.37 1947.43L1559.16 1961.95M1543.37 1960.43L1559.16 1974.95M1543.37 1973.43L1559.16 1987.95M1543.37 1986.43L1559.16 2000.95M1543.37 1999.43L1559.16 2013.95M1543.37 2012.43L1559.16 2026.95M1543.37 2025.43L1559.16 2039.95M1543.37 2038.43L1559.16 2052.95M1543.37 2051.43L1559.16 2065.95M1543.37 2064.43L1559.16 2078.95M1543.37 2077.43L1559.16 2091.95M1543.37 2090.43L1559.16 2104.95M1543.37 2103.43L1559.16 2117.95M1543.37 2116.43L1559.16 2130.95M1543.37 2129.43L1559.16 2143.95M1543.37 2142.43L1559.16 2156.95M1543.37 2155.43L1559.16 2169.95M1543.37 2168.43L1559.16 2182.95M1543.37 2181.43L1559.16 2195.95M1543.37 2194.43L1559.16 2208.95M1543.37 2207.43L1559.16 2221.95M1543.37 2220.43L1549.15 2225.75"/>
</g>
<path d="M860.5 1736H1571.4V2226.05H860.5ZM860.5 2127.8h10M860.5 2029.85h10M860.5 1931.9h10M860.5 1833.95h10M978.92 2226.05v-5M1097.33 2226.05v-5M1215.75 2226.05v-5M1334.17 2226.05v-5M1452.58 2226.05v-5" fill="none" stroke="#6d6e71" stroke-width="1.2"/>
<g font-size="21.2" text-anchor="end">
<text x="849.5" y="2231.05">0</text>
<text x="849.5" y="2133.1">20</text>
<text x="849.5" y="2035.15">40</text>
<text x="849.5" y="1937.2">60</text>
<text x="849.5" y="1839.25">80</text>
<text x="849.5" y="1741.3">100</text>
</g>
<g font-size="21.8" text-anchor="middle">
<text x="920.61" y="2253">&gt;5mm</text>
<text x="1039.03" y="2253">5-3mm</text>
<text x="1157.44" y="2253">3-2mm</text>
<text x="1275.86" y="2253">2-1mm</text>
<text x="1394.28" y="2253">1-0.25mm</text>
<text x="1512.69" y="2253">&lt;0.25mm</text>
</g>
<text x="866" y="1794" font-size="52.8">H</text>
<text x="1156.62" y="1836.25" font-size="38.8" text-anchor="middle" class="t">May, 2013</text>
<text x="1217.2" y="2295" font-size="26.6" text-anchor="middle">Aggregate size class (mm)</text>
</g>
<g id="legend">
<rect x="692.3" y="12.5" width="102.5" height="187" fill="#fff" stroke="#231f20" stroke-width="1"/>
<rect x="703.9" y="32.3" width="46.3" height="21.3" fill="#231f20" stroke="#231f20" stroke-width="1"/>
<text x="757" y="49.7" font-size="20.5">P1</text>
<rect x="703.9" y="57.58" width="46.3" height="21.3" fill="#fff" stroke="#231f20" stroke-width="1"/>
<text x="757" y="74.98" font-size="20.5">C1</text>
<rect x="703.9" y="82.86" width="46.3" height="21.3" fill="#939598" stroke="#231f20" stroke-width="1"/>
<text x="757" y="100.26" font-size="20.5">P2</text>
<rect x="703.9" y="108.14" width="46.3" height="21.3" fill="#fff" stroke="#231f20" stroke-width="1"/>
<text x="757" y="125.54" font-size="20.5">C2</text>
<rect x="703.9" y="133.42" width="46.3" height="21.3" fill="#c7c8ca" stroke="#231f20" stroke-width="1"/>
<text x="757" y="150.82" font-size="20.5">P3</text>
<rect x="703.9" y="158.7" width="46.3" height="21.3" fill="#fff" stroke="#231f20" stroke-width="1"/>
<text x="757" y="176.1" font-size="20.5">C3</text>
<path d="M703.9 70.58L716.9 57.58M708.8 78.88L730.1 57.58M722 78.88L743.3 57.58M735.2 78.88L750.2 63.88M748.4 78.88L750.2 77.08M743.5 108.14L750.2 114.84M730.3 108.14L750.2 128.04M717.1 108.14L738.4 129.44M703.9 108.14L725.2 129.44M703.9 121.34L712 129.44M703.9 171.7L716.9 158.7M708.8 180L730.1 158.7M722 180L743.3 158.7M735.2 180L750.2 165M748.4 180L750.2 178.2M743.5 158.7L750.2 165.4M730.3 158.7L750.2 178.6M717.1 158.7L738.4 180M703.9 158.7L725.2 180M703.9 171.9L712 180" fill="none" stroke="#231f20" stroke-width="1"/>
</g>
</svg>
</body></html>
